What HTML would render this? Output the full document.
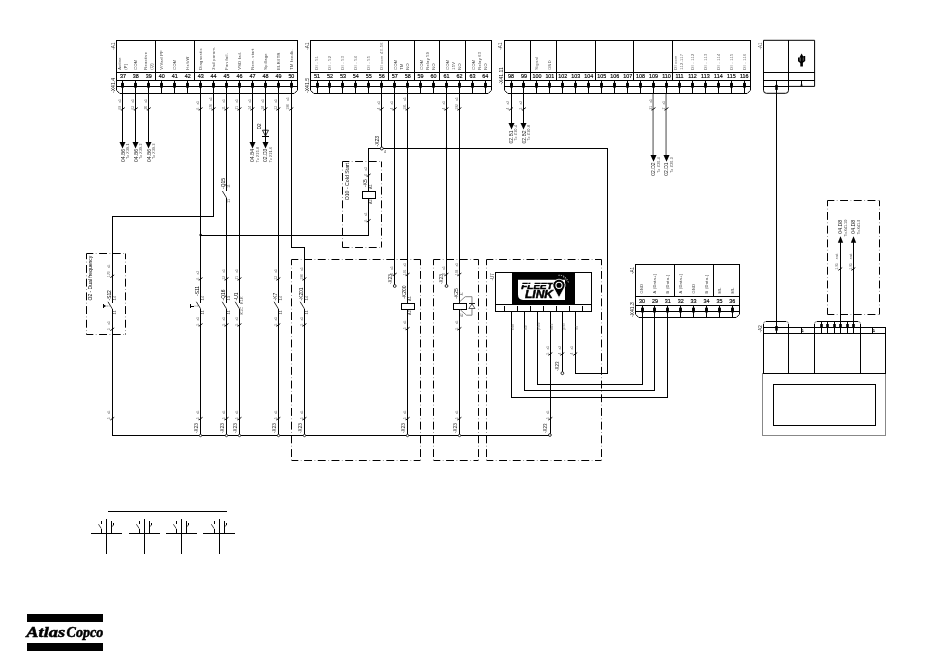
<!DOCTYPE html>
<html><head><meta charset="utf-8"><title>Wiring diagram</title>
<style>
html,body{margin:0;padding:0;background:#fff;}
body{width:950px;height:657px;overflow:hidden;font-family:"Liberation Sans",sans-serif;}
svg{display:block;font-family:"Liberation Sans",sans-serif;opacity:0.999;will-change:transform;}
</style></head><body>
<svg width="950" height="657" viewBox="0 0 950 657">
<rect width="950" height="657" fill="#fff"/>

<line x1="122.90" y1="93.00" x2="122.90" y2="143.50" stroke="#000" stroke-width="1"  shape-rendering="crispEdges"/>
<polygon points="119.50,141.90 125.50,141.90 122.50,148.50" fill="#000"/>
<text transform="translate(124.70,162.00) rotate(-90)" font-size="5.0" fill="#222" text-anchor="start" font-weight="normal" >04.B6</text>
<text transform="translate(129.30,159.00) rotate(-90)" font-size="3.5" fill="#333" text-anchor="start" font-weight="normal" letter-spacing="0.22">To X39.1</text>
<line x1="120.50" y1="109.80" x2="121.30" y2="110.20" stroke="#333" stroke-width="0.5" />
<line x1="121.10" y1="110.20" x2="124.80" y2="107.60" stroke="#000" stroke-width="0.9" />
<text transform="translate(121.00,109.60) rotate(-90)" font-size="3.3" fill="#6a6a6a" text-anchor="start" font-weight="normal" >69</text>
<text transform="translate(121.00,102.74) rotate(-90)" font-size="3.3" fill="#6a6a6a" text-anchor="start" font-weight="normal" >a5</text>
<line x1="135.86" y1="93.00" x2="135.86" y2="143.50" stroke="#000" stroke-width="1"  shape-rendering="crispEdges"/>
<polygon points="132.50,141.90 138.50,141.90 135.50,148.50" fill="#000"/>
<text transform="translate(137.66,162.00) rotate(-90)" font-size="5.0" fill="#222" text-anchor="start" font-weight="normal" >04.B6</text>
<text transform="translate(142.26,159.00) rotate(-90)" font-size="3.5" fill="#333" text-anchor="start" font-weight="normal" letter-spacing="0.22">To X39.2</text>
<line x1="133.46" y1="109.80" x2="134.26" y2="110.20" stroke="#333" stroke-width="0.5" />
<line x1="134.06" y1="110.20" x2="137.76" y2="107.60" stroke="#000" stroke-width="0.9" />
<text transform="translate(133.96,109.60) rotate(-90)" font-size="3.3" fill="#6a6a6a" text-anchor="start" font-weight="normal" >63</text>
<text transform="translate(133.96,102.74) rotate(-90)" font-size="3.3" fill="#6a6a6a" text-anchor="start" font-weight="normal" >a5</text>
<line x1="148.82" y1="93.00" x2="148.82" y2="143.50" stroke="#000" stroke-width="1"  shape-rendering="crispEdges"/>
<polygon points="145.50,141.90 151.50,141.90 148.50,148.50" fill="#000"/>
<text transform="translate(150.62,162.00) rotate(-90)" font-size="5.0" fill="#222" text-anchor="start" font-weight="normal" >04.B6</text>
<text transform="translate(155.22,159.00) rotate(-90)" font-size="3.5" fill="#333" text-anchor="start" font-weight="normal" letter-spacing="0.22">To X39.3</text>
<line x1="146.42" y1="109.80" x2="147.22" y2="110.20" stroke="#333" stroke-width="0.5" />
<line x1="147.02" y1="110.20" x2="150.72" y2="107.60" stroke="#000" stroke-width="0.9" />
<text transform="translate(146.92,109.60) rotate(-90)" font-size="3.3" fill="#6a6a6a" text-anchor="start" font-weight="normal" >70</text>
<text transform="translate(146.92,102.74) rotate(-90)" font-size="3.3" fill="#6a6a6a" text-anchor="start" font-weight="normal" >a5</text>
<line x1="200.66" y1="93.00" x2="200.66" y2="435.00" stroke="#000" stroke-width="1"  shape-rendering="crispEdges"/>
<polyline points="213.62,93.00 213.62,216.00 112.30,216.00 112.30,435.00" stroke="#000" stroke-width="1" fill="none"  shape-rendering="crispEdges"/>
<line x1="226.58" y1="93.00" x2="226.58" y2="191.40" stroke="#000" stroke-width="1"  shape-rendering="crispEdges"/>
<line x1="226.58" y1="197.90" x2="226.58" y2="435.00" stroke="#000" stroke-width="1"  shape-rendering="crispEdges"/>
<line x1="226.58" y1="197.90" x2="222.38" y2="191.00" stroke="#000" stroke-width="0.8" />
<text transform="translate(225.08,189.00) rotate(-90)" font-size="4.9" fill="#000" text-anchor="start" font-weight="normal" >-Q15</text>
<text transform="translate(229.98,187.80) rotate(-90)" font-size="2.8" fill="#555" text-anchor="start" font-weight="normal" >13</text>
<text transform="translate(229.98,202.80) rotate(-90)" font-size="3.6" fill="#444" text-anchor="start" font-weight="normal" >11</text>
<line x1="239.54" y1="93.00" x2="239.54" y2="435.00" stroke="#000" stroke-width="1"  shape-rendering="crispEdges"/>
<line x1="252.50" y1="93.00" x2="252.50" y2="143.50" stroke="#000" stroke-width="1"  shape-rendering="crispEdges"/>
<polygon points="249.50,141.90 255.50,141.90 252.50,148.50" fill="#000"/>
<text transform="translate(254.30,162.00) rotate(-90)" font-size="5.0" fill="#222" text-anchor="start" font-weight="normal" >04.B4</text>
<text transform="translate(259.10,162.30) rotate(-90)" font-size="3.5" fill="#333" text-anchor="start" font-weight="normal" letter-spacing="0.22">To X25.8</text>
<line x1="265.46" y1="93.00" x2="265.46" y2="143.50" stroke="#000" stroke-width="1"  shape-rendering="crispEdges"/>
<polygon points="262.50,141.90 268.50,141.90 265.50,148.50" fill="#000"/>
<polygon points="262.46,130.2 268.46,130.2 265.46,136" fill="none" stroke="#000" stroke-width="0.8"/>
<line x1="262.26" y1="136.20" x2="268.66" y2="136.20" stroke="#000" stroke-width="1"  shape-rendering="crispEdges"/>
<text transform="translate(261.06,129.40) rotate(-90)" font-size="4.7" fill="#000" text-anchor="start" font-weight="normal" >D2</text>
<text transform="translate(267.26,162.00) rotate(-90)" font-size="5.0" fill="#222" text-anchor="start" font-weight="normal" >02.D3</text>
<text transform="translate(272.06,162.30) rotate(-90)" font-size="3.5" fill="#333" text-anchor="start" font-weight="normal" letter-spacing="0.22">To X21.6</text>
<line x1="278.42" y1="93.00" x2="278.42" y2="435.00" stroke="#000" stroke-width="1"  shape-rendering="crispEdges"/>
<polyline points="291.38,93.00 291.38,247.30 304.50,247.30 304.50,435.00" stroke="#000" stroke-width="1" fill="none"  shape-rendering="crispEdges"/>
<line x1="198.26" y1="109.80" x2="199.06" y2="110.20" stroke="#333" stroke-width="0.5" />
<line x1="198.86" y1="110.20" x2="202.56" y2="107.60" stroke="#000" stroke-width="0.9" />
<text transform="translate(198.76,109.60) rotate(-90)" font-size="3.3" fill="#6a6a6a" text-anchor="start" font-weight="normal" >6</text>
<text transform="translate(198.76,104.52) rotate(-90)" font-size="3.3" fill="#6a6a6a" text-anchor="start" font-weight="normal" >a5</text>
<line x1="211.22" y1="109.80" x2="212.02" y2="110.20" stroke="#333" stroke-width="0.5" />
<line x1="211.82" y1="110.20" x2="215.52" y2="107.60" stroke="#000" stroke-width="0.9" />
<text transform="translate(211.72,109.60) rotate(-90)" font-size="3.3" fill="#6a6a6a" text-anchor="start" font-weight="normal" >170</text>
<text transform="translate(211.72,100.96) rotate(-90)" font-size="3.3" fill="#6a6a6a" text-anchor="start" font-weight="normal" >a5</text>
<line x1="224.18" y1="109.80" x2="224.98" y2="110.20" stroke="#333" stroke-width="0.5" />
<line x1="224.78" y1="110.20" x2="228.48" y2="107.60" stroke="#000" stroke-width="0.9" />
<text transform="translate(224.68,109.60) rotate(-90)" font-size="3.3" fill="#6a6a6a" text-anchor="start" font-weight="normal" >11</text>
<text transform="translate(224.68,102.74) rotate(-90)" font-size="3.3" fill="#6a6a6a" text-anchor="start" font-weight="normal" >a5</text>
<line x1="237.14" y1="109.80" x2="237.94" y2="110.20" stroke="#333" stroke-width="0.5" />
<line x1="237.74" y1="110.20" x2="241.44" y2="107.60" stroke="#000" stroke-width="0.9" />
<text transform="translate(237.64,109.60) rotate(-90)" font-size="3.3" fill="#6a6a6a" text-anchor="start" font-weight="normal" >71</text>
<text transform="translate(237.64,102.74) rotate(-90)" font-size="3.3" fill="#6a6a6a" text-anchor="start" font-weight="normal" >a5</text>
<line x1="250.10" y1="109.80" x2="250.90" y2="110.20" stroke="#333" stroke-width="0.5" />
<line x1="250.70" y1="110.20" x2="254.40" y2="107.60" stroke="#000" stroke-width="0.9" />
<text transform="translate(250.60,109.60) rotate(-90)" font-size="3.3" fill="#6a6a6a" text-anchor="start" font-weight="normal" >14</text>
<text transform="translate(250.60,102.74) rotate(-90)" font-size="3.3" fill="#6a6a6a" text-anchor="start" font-weight="normal" >a5</text>
<line x1="263.06" y1="109.80" x2="263.86" y2="110.20" stroke="#333" stroke-width="0.5" />
<line x1="263.66" y1="110.20" x2="267.36" y2="107.60" stroke="#000" stroke-width="0.9" />
<text transform="translate(263.56,109.60) rotate(-90)" font-size="3.3" fill="#6a6a6a" text-anchor="start" font-weight="normal" >18</text>
<text transform="translate(263.56,102.74) rotate(-90)" font-size="3.3" fill="#6a6a6a" text-anchor="start" font-weight="normal" >a5</text>
<line x1="276.02" y1="109.80" x2="276.82" y2="110.20" stroke="#333" stroke-width="0.5" />
<line x1="276.62" y1="110.20" x2="280.32" y2="107.60" stroke="#000" stroke-width="0.9" />
<text transform="translate(276.52,109.60) rotate(-90)" font-size="3.3" fill="#6a6a6a" text-anchor="start" font-weight="normal" >13</text>
<text transform="translate(276.52,102.74) rotate(-90)" font-size="3.3" fill="#6a6a6a" text-anchor="start" font-weight="normal" >a5</text>
<line x1="288.98" y1="109.80" x2="289.78" y2="110.20" stroke="#333" stroke-width="0.5" />
<line x1="289.58" y1="110.20" x2="293.28" y2="107.60" stroke="#000" stroke-width="0.9" />
<text transform="translate(289.48,109.60) rotate(-90)" font-size="3.3" fill="#6a6a6a" text-anchor="start" font-weight="normal" >190</text>
<text transform="translate(289.48,100.96) rotate(-90)" font-size="3.3" fill="#6a6a6a" text-anchor="start" font-weight="normal" >a5</text>
<circle cx="200.66" cy="235.00" r="1.2" fill="#000"/>
<polyline points="200.66,235.00 368.70,235.00 368.70,148.50 607.30,148.50 607.30,373.20 575.80,373.20 575.80,311.50" stroke="#000" stroke-width="1" fill="none"  shape-rendering="crispEdges"/>
<line x1="381.77" y1="93.00" x2="381.77" y2="148.50" stroke="#000" stroke-width="1"  shape-rendering="crispEdges"/>
<circle cx="381.77" cy="148.50" r="1.5" fill="#fff" stroke="#000" stroke-width="0.8"/>
<text transform="translate(379.47,146.50) rotate(-90)" font-size="5.0" fill="#000" text-anchor="start" font-weight="normal" >-X23</text>
<text x="384.97" y="153.20" font-size="3.4" fill="#222" text-anchor="middle" font-weight="normal" >4</text>
<line x1="394.72" y1="93.00" x2="394.72" y2="286.00" stroke="#000" stroke-width="1"  shape-rendering="crispEdges"/>
<circle cx="394.72" cy="286.00" r="1.4" fill="#fff" stroke="#000" stroke-width="0.8"/>
<line x1="407.67" y1="93.00" x2="407.67" y2="435.00" stroke="#000" stroke-width="1"  shape-rendering="crispEdges"/>
<line x1="446.52" y1="93.00" x2="446.52" y2="286.00" stroke="#000" stroke-width="1"  shape-rendering="crispEdges"/>
<circle cx="446.52" cy="286.00" r="1.4" fill="#fff" stroke="#000" stroke-width="0.8"/>
<circle cx="446.52" cy="148.50" r="0.9" fill="#000"/>
<line x1="459.47" y1="93.00" x2="459.47" y2="435.00" stroke="#000" stroke-width="1"  shape-rendering="crispEdges"/>
<line x1="379.37" y1="109.80" x2="380.17" y2="110.20" stroke="#333" stroke-width="0.5" />
<line x1="379.97" y1="110.20" x2="383.67" y2="107.60" stroke="#000" stroke-width="0.9" />
<text transform="translate(379.87,109.60) rotate(-90)" font-size="3.3" fill="#6a6a6a" text-anchor="start" font-weight="normal" >4</text>
<text transform="translate(379.87,104.52) rotate(-90)" font-size="3.3" fill="#6a6a6a" text-anchor="start" font-weight="normal" >a5</text>
<line x1="392.32" y1="109.80" x2="393.12" y2="110.20" stroke="#333" stroke-width="0.5" />
<line x1="392.92" y1="110.20" x2="396.62" y2="107.60" stroke="#000" stroke-width="0.9" />
<text transform="translate(392.82,109.60) rotate(-90)" font-size="3.3" fill="#6a6a6a" text-anchor="start" font-weight="normal" >4</text>
<text transform="translate(392.82,104.52) rotate(-90)" font-size="3.3" fill="#6a6a6a" text-anchor="start" font-weight="normal" >a5</text>
<line x1="405.27" y1="109.80" x2="406.07" y2="110.20" stroke="#333" stroke-width="0.5" />
<line x1="405.87" y1="110.20" x2="409.57" y2="107.60" stroke="#000" stroke-width="0.9" />
<text transform="translate(405.77,109.60) rotate(-90)" font-size="3.3" fill="#6a6a6a" text-anchor="start" font-weight="normal" >191</text>
<text transform="translate(405.77,100.96) rotate(-90)" font-size="3.3" fill="#6a6a6a" text-anchor="start" font-weight="normal" >a5</text>
<line x1="444.12" y1="109.80" x2="444.92" y2="110.20" stroke="#333" stroke-width="0.5" />
<line x1="444.72" y1="110.20" x2="448.42" y2="107.60" stroke="#000" stroke-width="0.9" />
<text transform="translate(444.62,109.60) rotate(-90)" font-size="3.3" fill="#6a6a6a" text-anchor="start" font-weight="normal" >4</text>
<text transform="translate(444.62,104.52) rotate(-90)" font-size="3.3" fill="#6a6a6a" text-anchor="start" font-weight="normal" >a5</text>
<line x1="457.07" y1="109.80" x2="457.87" y2="110.20" stroke="#333" stroke-width="0.5" />
<line x1="457.67" y1="110.20" x2="461.37" y2="107.60" stroke="#000" stroke-width="0.9" />
<text transform="translate(457.57,109.60) rotate(-90)" font-size="3.3" fill="#6a6a6a" text-anchor="start" font-weight="normal" >192</text>
<text transform="translate(457.57,100.96) rotate(-90)" font-size="3.3" fill="#6a6a6a" text-anchor="start" font-weight="normal" >a5</text>
<line x1="511.01" y1="93.00" x2="511.01" y2="124.50" stroke="#000" stroke-width="1"  shape-rendering="crispEdges"/>
<polygon points="508.50,122.90 514.50,122.90 511.50,129.50" fill="#000"/>
<text transform="translate(512.81,143.50) rotate(-90)" font-size="5.0" fill="#222" text-anchor="start" font-weight="normal" >02.B1</text>
<text transform="translate(517.41,140.50) rotate(-90)" font-size="3.5" fill="#333" text-anchor="start" font-weight="normal" letter-spacing="0.22">To X30.4</text>
<line x1="508.61" y1="109.80" x2="509.41" y2="110.20" stroke="#333" stroke-width="0.5" />
<line x1="509.21" y1="110.20" x2="512.91" y2="107.60" stroke="#000" stroke-width="0.9" />
<text transform="translate(509.11,109.60) rotate(-90)" font-size="3.3" fill="#6a6a6a" text-anchor="start" font-weight="normal" >4</text>
<text transform="translate(509.11,104.52) rotate(-90)" font-size="3.3" fill="#6a6a6a" text-anchor="start" font-weight="normal" >a2</text>
<line x1="523.97" y1="93.00" x2="523.97" y2="124.50" stroke="#000" stroke-width="1"  shape-rendering="crispEdges"/>
<polygon points="520.50,122.90 526.50,122.90 523.50,129.50" fill="#000"/>
<text transform="translate(525.77,143.50) rotate(-90)" font-size="5.0" fill="#222" text-anchor="start" font-weight="normal" >02.B2</text>
<text transform="translate(530.37,140.50) rotate(-90)" font-size="3.5" fill="#333" text-anchor="start" font-weight="normal" letter-spacing="0.22">To X30.8</text>
<line x1="521.57" y1="109.80" x2="522.37" y2="110.20" stroke="#333" stroke-width="0.5" />
<line x1="522.17" y1="110.20" x2="525.87" y2="107.60" stroke="#000" stroke-width="0.9" />
<text transform="translate(522.07,109.60) rotate(-90)" font-size="3.3" fill="#6a6a6a" text-anchor="start" font-weight="normal" >3</text>
<text transform="translate(522.07,104.52) rotate(-90)" font-size="3.3" fill="#6a6a6a" text-anchor="start" font-weight="normal" >a2</text>
<line x1="653.12" y1="93" x2="653.12" y2="156.7" stroke="#999" stroke-width="1.8"/>
<polygon points="650.50,155.10 656.50,155.10 653.50,161.70" fill="#000"/>
<text transform="translate(655.37,175.70) rotate(-90)" font-size="5.0" fill="#222" text-anchor="start" font-weight="normal" >02.D2</text>
<text transform="translate(659.97,172.70) rotate(-90)" font-size="3.5" fill="#333" text-anchor="start" font-weight="normal" letter-spacing="0.22">To X20.4</text>
<line x1="651.17" y1="109.80" x2="651.97" y2="110.20" stroke="#333" stroke-width="0.5" />
<line x1="651.77" y1="110.20" x2="655.47" y2="107.60" stroke="#000" stroke-width="0.9" />
<text transform="translate(651.67,109.60) rotate(-90)" font-size="3.3" fill="#6a6a6a" text-anchor="start" font-weight="normal" >21</text>
<text transform="translate(651.67,102.74) rotate(-90)" font-size="3.3" fill="#6a6a6a" text-anchor="start" font-weight="normal" >a5</text>
<line x1="666.08" y1="93" x2="666.08" y2="156.7" stroke="#999" stroke-width="1.8"/>
<polygon points="663.50,155.10 669.50,155.10 666.50,161.70" fill="#000"/>
<text transform="translate(668.33,175.70) rotate(-90)" font-size="5.0" fill="#222" text-anchor="start" font-weight="normal" >02.D1</text>
<text transform="translate(672.93,172.70) rotate(-90)" font-size="3.5" fill="#333" text-anchor="start" font-weight="normal" letter-spacing="0.22">To X20.3</text>
<line x1="664.13" y1="109.80" x2="664.93" y2="110.20" stroke="#333" stroke-width="0.5" />
<line x1="664.73" y1="110.20" x2="668.43" y2="107.60" stroke="#000" stroke-width="0.9" />
<text transform="translate(664.63,109.60) rotate(-90)" font-size="3.3" fill="#6a6a6a" text-anchor="start" font-weight="normal" >7</text>
<text transform="translate(664.63,104.52) rotate(-90)" font-size="3.3" fill="#6a6a6a" text-anchor="start" font-weight="normal" >a5</text>
<line x1="776.30" y1="93.00" x2="776.30" y2="327.00" stroke="#000" stroke-width="1"  shape-rendering="crispEdges"/>
<line x1="112.30" y1="435.00" x2="549.90" y2="435.00" stroke="#000" stroke-width="1"  shape-rendering="crispEdges"/>
<path d="M116.60,40.30 H297.50 V90.00 L294.30,93.20 H119.80 L116.60,90.00 Z" fill="#fff" stroke="none"/>
<polyline points="116.5,90.30 116.5,40.5 297.5,40.5 297.5,90.30" fill="none" stroke="#000" stroke-width="1" shape-rendering="crispEdges"/>
<line x1="119.70" y1="93.5" x2="294.30" y2="93.5" stroke="#000" stroke-width="1" shape-rendering="crispEdges"/>
<path d="M116.5,90.30 L119.70,93.5 M297.5,90.30 L294.30,93.5" fill="none" stroke="#000" stroke-width="1"/>
<line x1="116.60" y1="72.40" x2="297.50" y2="72.40" stroke="#000" stroke-width="1"  shape-rendering="crispEdges"/>
<line x1="116.60" y1="80.40" x2="297.50" y2="80.40" stroke="#000" stroke-width="1"  shape-rendering="crispEdges"/>
<line x1="116.60" y1="86.60" x2="297.50" y2="86.60" stroke="#000" stroke-width="1"  shape-rendering="crispEdges"/>
<line x1="155.50" y1="40.30" x2="155.50" y2="80.40" stroke="#000" stroke-width="1"  shape-rendering="crispEdges"/>
<line x1="194.50" y1="40.30" x2="194.50" y2="80.40" stroke="#000" stroke-width="1"  shape-rendering="crispEdges"/>
<line x1="122.90" y1="80.40" x2="122.90" y2="93.20" stroke="#000" stroke-width="1"  shape-rendering="crispEdges"/>
<rect x="121.05" y="82.90" width="2.9" height="4.7" fill="#000"/>
<text x="122.90" y="78.35" font-size="5.4" fill="#000" text-anchor="middle" font-weight="normal" stroke="#000" stroke-width="0.15">37</text>
<line x1="135.86" y1="80.40" x2="135.86" y2="93.20" stroke="#000" stroke-width="1"  shape-rendering="crispEdges"/>
<rect x="134.05" y="82.90" width="2.9" height="4.7" fill="#000"/>
<text x="135.86" y="78.35" font-size="5.4" fill="#000" text-anchor="middle" font-weight="normal" stroke="#000" stroke-width="0.15">38</text>
<line x1="148.82" y1="80.40" x2="148.82" y2="93.20" stroke="#000" stroke-width="1"  shape-rendering="crispEdges"/>
<rect x="147.05" y="82.90" width="2.9" height="4.7" fill="#000"/>
<text x="148.82" y="78.35" font-size="5.4" fill="#000" text-anchor="middle" font-weight="normal" stroke="#000" stroke-width="0.15">39</text>
<line x1="161.78" y1="80.40" x2="161.78" y2="93.20" stroke="#000" stroke-width="1"  shape-rendering="crispEdges"/>
<rect x="160.05" y="82.90" width="2.9" height="4.7" fill="#000"/>
<text x="161.78" y="78.35" font-size="5.4" fill="#000" text-anchor="middle" font-weight="normal" stroke="#000" stroke-width="0.15">40</text>
<line x1="174.74" y1="80.40" x2="174.74" y2="93.20" stroke="#000" stroke-width="1"  shape-rendering="crispEdges"/>
<rect x="173.05" y="82.90" width="2.9" height="4.7" fill="#000"/>
<text x="174.74" y="78.35" font-size="5.4" fill="#000" text-anchor="middle" font-weight="normal" stroke="#000" stroke-width="0.15">41</text>
<line x1="187.70" y1="80.40" x2="187.70" y2="93.20" stroke="#000" stroke-width="1"  shape-rendering="crispEdges"/>
<rect x="186.05" y="82.90" width="2.9" height="4.7" fill="#000"/>
<text x="187.70" y="78.35" font-size="5.4" fill="#000" text-anchor="middle" font-weight="normal" stroke="#000" stroke-width="0.15">42</text>
<line x1="200.66" y1="80.40" x2="200.66" y2="93.20" stroke="#000" stroke-width="1"  shape-rendering="crispEdges"/>
<rect x="199.05" y="82.90" width="2.9" height="4.7" fill="#000"/>
<text x="200.66" y="78.35" font-size="5.4" fill="#000" text-anchor="middle" font-weight="normal" stroke="#000" stroke-width="0.15">43</text>
<line x1="213.62" y1="80.40" x2="213.62" y2="93.20" stroke="#000" stroke-width="1"  shape-rendering="crispEdges"/>
<rect x="212.05" y="82.90" width="2.9" height="4.7" fill="#000"/>
<text x="213.62" y="78.35" font-size="5.4" fill="#000" text-anchor="middle" font-weight="normal" stroke="#000" stroke-width="0.15">44</text>
<line x1="226.58" y1="80.40" x2="226.58" y2="93.20" stroke="#000" stroke-width="1"  shape-rendering="crispEdges"/>
<rect x="225.05" y="82.90" width="2.9" height="4.7" fill="#000"/>
<text x="226.58" y="78.35" font-size="5.4" fill="#000" text-anchor="middle" font-weight="normal" stroke="#000" stroke-width="0.15">45</text>
<line x1="239.54" y1="80.40" x2="239.54" y2="93.20" stroke="#000" stroke-width="1"  shape-rendering="crispEdges"/>
<rect x="238.05" y="82.90" width="2.9" height="4.7" fill="#000"/>
<text x="239.54" y="78.35" font-size="5.4" fill="#000" text-anchor="middle" font-weight="normal" stroke="#000" stroke-width="0.15">46</text>
<line x1="252.50" y1="80.40" x2="252.50" y2="93.20" stroke="#000" stroke-width="1"  shape-rendering="crispEdges"/>
<rect x="251.05" y="82.90" width="2.9" height="4.7" fill="#000"/>
<text x="252.50" y="78.35" font-size="5.4" fill="#000" text-anchor="middle" font-weight="normal" stroke="#000" stroke-width="0.15">47</text>
<line x1="265.46" y1="80.40" x2="265.46" y2="93.20" stroke="#000" stroke-width="1"  shape-rendering="crispEdges"/>
<rect x="264.05" y="82.90" width="2.9" height="4.7" fill="#000"/>
<text x="265.46" y="78.35" font-size="5.4" fill="#000" text-anchor="middle" font-weight="normal" stroke="#000" stroke-width="0.15">48</text>
<line x1="278.42" y1="80.40" x2="278.42" y2="93.20" stroke="#000" stroke-width="1"  shape-rendering="crispEdges"/>
<rect x="277.05" y="82.90" width="2.9" height="4.7" fill="#000"/>
<text x="278.42" y="78.35" font-size="5.4" fill="#000" text-anchor="middle" font-weight="normal" stroke="#000" stroke-width="0.15">49</text>
<line x1="291.38" y1="80.40" x2="291.38" y2="93.20" stroke="#000" stroke-width="1"  shape-rendering="crispEdges"/>
<rect x="290.05" y="82.90" width="2.9" height="4.7" fill="#000"/>
<text x="291.38" y="78.35" font-size="5.4" fill="#000" text-anchor="middle" font-weight="normal" stroke="#000" stroke-width="0.15">50</text>
<text transform="translate(120.90,69.80) rotate(-90)" font-size="4.0" fill="#444" text-anchor="start" font-weight="normal" letter-spacing="0.3">Active</text>
<text transform="translate(126.90,69.80) rotate(-90)" font-size="4.0" fill="#444" text-anchor="start" font-weight="normal" letter-spacing="0.3">(P)</text>
<text transform="translate(137.26,69.80) rotate(-90)" font-size="4.0" fill="#444" text-anchor="start" font-weight="normal" letter-spacing="0.3">COM</text>
<text transform="translate(146.82,69.80) rotate(-90)" font-size="4.0" fill="#444" text-anchor="start" font-weight="normal" letter-spacing="0.3">Reactive</text>
<text transform="translate(152.82,69.80) rotate(-90)" font-size="4.0" fill="#444" text-anchor="start" font-weight="normal" letter-spacing="0.3">(Q)</text>
<text transform="translate(163.18,69.80) rotate(-90)" font-size="4.0" fill="#444" text-anchor="start" font-weight="normal" letter-spacing="0.3">V/Varf PF</text>
<text transform="translate(176.14,69.80) rotate(-90)" font-size="4.0" fill="#444" text-anchor="start" font-weight="normal" letter-spacing="0.3">COM</text>
<text transform="translate(189.10,69.80) rotate(-90)" font-size="4.0" fill="#444" text-anchor="start" font-weight="normal" letter-spacing="0.3">Hz/kW</text>
<text transform="translate(202.06,69.80) rotate(-90)" font-size="4.0" fill="#444" text-anchor="start" font-weight="normal" letter-spacing="0.3">Diagnostic</text>
<text transform="translate(215.02,69.80) rotate(-90)" font-size="4.0" fill="#444" text-anchor="start" font-weight="normal" letter-spacing="0.3">2nd param.</text>
<text transform="translate(227.98,69.80) rotate(-90)" font-size="4.0" fill="#444" text-anchor="start" font-weight="normal" letter-spacing="0.3">Fan fail.</text>
<text transform="translate(240.94,69.80) rotate(-90)" font-size="4.0" fill="#444" text-anchor="start" font-weight="normal" letter-spacing="0.3">VSD fail.</text>
<text transform="translate(253.90,69.80) rotate(-90)" font-size="4.0" fill="#444" text-anchor="start" font-weight="normal" letter-spacing="0.3">Rem. start</text>
<text transform="translate(266.86,69.80) rotate(-90)" font-size="4.0" fill="#444" text-anchor="start" font-weight="normal" letter-spacing="0.3">Spillage</text>
<text transform="translate(279.82,69.80) rotate(-90)" font-size="4.0" fill="#444" text-anchor="start" font-weight="normal" letter-spacing="0.3">ELR/ITR</text>
<text transform="translate(292.78,69.80) rotate(-90)" font-size="4.0" fill="#444" text-anchor="start" font-weight="normal" letter-spacing="0.3">TM feedb.</text>
<text transform="translate(114.70,49.80) rotate(-90)" font-size="4.7" fill="#111" text-anchor="start" font-weight="normal" >-A1</text>
<text transform="translate(115.40,93.00) rotate(-90)" font-size="5.1" fill="#111" text-anchor="start" font-weight="normal" >-X41.4</text>
<path d="M310.60,40.30 H491.80 V90.00 L488.60,93.20 H313.80 L310.60,90.00 Z" fill="#fff" stroke="none"/>
<polyline points="310.5,90.30 310.5,40.5 491.5,40.5 491.5,90.30" fill="none" stroke="#000" stroke-width="1" shape-rendering="crispEdges"/>
<line x1="313.70" y1="93.5" x2="488.30" y2="93.5" stroke="#000" stroke-width="1" shape-rendering="crispEdges"/>
<path d="M310.5,90.30 L313.70,93.5 M491.5,90.30 L488.30,93.5" fill="none" stroke="#000" stroke-width="1"/>
<line x1="310.60" y1="72.40" x2="491.80" y2="72.40" stroke="#000" stroke-width="1"  shape-rendering="crispEdges"/>
<line x1="310.60" y1="80.40" x2="491.80" y2="80.40" stroke="#000" stroke-width="1"  shape-rendering="crispEdges"/>
<line x1="310.60" y1="86.60" x2="491.80" y2="86.60" stroke="#000" stroke-width="1"  shape-rendering="crispEdges"/>
<line x1="388.40" y1="40.30" x2="388.40" y2="80.40" stroke="#000" stroke-width="1"  shape-rendering="crispEdges"/>
<line x1="414.40" y1="40.30" x2="414.40" y2="80.40" stroke="#000" stroke-width="1"  shape-rendering="crispEdges"/>
<line x1="439.60" y1="40.30" x2="439.60" y2="80.40" stroke="#000" stroke-width="1"  shape-rendering="crispEdges"/>
<line x1="465.50" y1="40.30" x2="465.50" y2="80.40" stroke="#000" stroke-width="1"  shape-rendering="crispEdges"/>
<line x1="317.02" y1="80.40" x2="317.02" y2="93.20" stroke="#000" stroke-width="1"  shape-rendering="crispEdges"/>
<rect x="316.05" y="82.90" width="2.9" height="4.7" fill="#000"/>
<text x="317.02" y="78.35" font-size="5.4" fill="#000" text-anchor="middle" font-weight="normal" stroke="#000" stroke-width="0.15">51</text>
<line x1="329.97" y1="80.40" x2="329.97" y2="93.20" stroke="#000" stroke-width="1"  shape-rendering="crispEdges"/>
<rect x="328.05" y="82.90" width="2.9" height="4.7" fill="#000"/>
<text x="329.97" y="78.35" font-size="5.4" fill="#000" text-anchor="middle" font-weight="normal" stroke="#000" stroke-width="0.15">52</text>
<line x1="342.92" y1="80.40" x2="342.92" y2="93.20" stroke="#000" stroke-width="1"  shape-rendering="crispEdges"/>
<rect x="341.05" y="82.90" width="2.9" height="4.7" fill="#000"/>
<text x="342.92" y="78.35" font-size="5.4" fill="#000" text-anchor="middle" font-weight="normal" stroke="#000" stroke-width="0.15">53</text>
<line x1="355.87" y1="80.40" x2="355.87" y2="93.20" stroke="#000" stroke-width="1"  shape-rendering="crispEdges"/>
<rect x="354.05" y="82.90" width="2.9" height="4.7" fill="#000"/>
<text x="355.87" y="78.35" font-size="5.4" fill="#000" text-anchor="middle" font-weight="normal" stroke="#000" stroke-width="0.15">54</text>
<line x1="368.82" y1="80.40" x2="368.82" y2="93.20" stroke="#000" stroke-width="1"  shape-rendering="crispEdges"/>
<rect x="367.05" y="82.90" width="2.9" height="4.7" fill="#000"/>
<text x="368.82" y="78.35" font-size="5.4" fill="#000" text-anchor="middle" font-weight="normal" stroke="#000" stroke-width="0.15">55</text>
<line x1="381.77" y1="80.40" x2="381.77" y2="93.20" stroke="#000" stroke-width="1"  shape-rendering="crispEdges"/>
<rect x="380.05" y="82.90" width="2.9" height="4.7" fill="#000"/>
<text x="381.77" y="78.35" font-size="5.4" fill="#000" text-anchor="middle" font-weight="normal" stroke="#000" stroke-width="0.15">56</text>
<line x1="394.72" y1="80.40" x2="394.72" y2="93.20" stroke="#000" stroke-width="1"  shape-rendering="crispEdges"/>
<rect x="393.05" y="82.90" width="2.9" height="4.7" fill="#000"/>
<text x="394.72" y="78.35" font-size="5.4" fill="#000" text-anchor="middle" font-weight="normal" stroke="#000" stroke-width="0.15">57</text>
<line x1="407.67" y1="80.40" x2="407.67" y2="93.20" stroke="#000" stroke-width="1"  shape-rendering="crispEdges"/>
<rect x="406.05" y="82.90" width="2.9" height="4.7" fill="#000"/>
<text x="407.67" y="78.35" font-size="5.4" fill="#000" text-anchor="middle" font-weight="normal" stroke="#000" stroke-width="0.15">58</text>
<line x1="420.62" y1="80.40" x2="420.62" y2="93.20" stroke="#000" stroke-width="1"  shape-rendering="crispEdges"/>
<rect x="419.05" y="82.90" width="2.9" height="4.7" fill="#000"/>
<text x="420.62" y="78.35" font-size="5.4" fill="#000" text-anchor="middle" font-weight="normal" stroke="#000" stroke-width="0.15">59</text>
<line x1="433.57" y1="80.40" x2="433.57" y2="93.20" stroke="#000" stroke-width="1"  shape-rendering="crispEdges"/>
<rect x="432.05" y="82.90" width="2.9" height="4.7" fill="#000"/>
<text x="433.57" y="78.35" font-size="5.4" fill="#000" text-anchor="middle" font-weight="normal" stroke="#000" stroke-width="0.15">60</text>
<line x1="446.52" y1="80.40" x2="446.52" y2="93.20" stroke="#000" stroke-width="1"  shape-rendering="crispEdges"/>
<rect x="445.05" y="82.90" width="2.9" height="4.7" fill="#000"/>
<text x="446.52" y="78.35" font-size="5.4" fill="#000" text-anchor="middle" font-weight="normal" stroke="#000" stroke-width="0.15">61</text>
<line x1="459.47" y1="80.40" x2="459.47" y2="93.20" stroke="#000" stroke-width="1"  shape-rendering="crispEdges"/>
<rect x="458.05" y="82.90" width="2.9" height="4.7" fill="#000"/>
<text x="459.47" y="78.35" font-size="5.4" fill="#000" text-anchor="middle" font-weight="normal" stroke="#000" stroke-width="0.15">62</text>
<line x1="472.42" y1="80.40" x2="472.42" y2="93.20" stroke="#000" stroke-width="1"  shape-rendering="crispEdges"/>
<rect x="471.05" y="82.90" width="2.9" height="4.7" fill="#000"/>
<text x="472.42" y="78.35" font-size="5.4" fill="#000" text-anchor="middle" font-weight="normal" stroke="#000" stroke-width="0.15">63</text>
<line x1="485.37" y1="80.40" x2="485.37" y2="93.20" stroke="#000" stroke-width="1"  shape-rendering="crispEdges"/>
<rect x="484.05" y="82.90" width="2.9" height="4.7" fill="#000"/>
<text x="485.37" y="78.35" font-size="5.4" fill="#000" text-anchor="middle" font-weight="normal" stroke="#000" stroke-width="0.15">64</text>
<text transform="translate(318.42,69.80) rotate(-90)" font-size="4.0" fill="#606060" text-anchor="start" font-weight="normal" letter-spacing="0.3">DI - 51</text>
<text transform="translate(331.37,69.80) rotate(-90)" font-size="4.0" fill="#606060" text-anchor="start" font-weight="normal" letter-spacing="0.3">DI - 52</text>
<text transform="translate(344.32,69.80) rotate(-90)" font-size="4.0" fill="#606060" text-anchor="start" font-weight="normal" letter-spacing="0.3">DI - 53</text>
<text transform="translate(357.27,69.80) rotate(-90)" font-size="4.0" fill="#606060" text-anchor="start" font-weight="normal" letter-spacing="0.3">DI - 54</text>
<text transform="translate(370.22,69.80) rotate(-90)" font-size="4.0" fill="#606060" text-anchor="start" font-weight="normal" letter-spacing="0.3">DI - 55</text>
<text transform="translate(383.17,69.80) rotate(-90)" font-size="4.0" fill="#606060" text-anchor="start" font-weight="normal" letter-spacing="0.3">DI com 43-56</text>
<text transform="translate(308.70,49.80) rotate(-90)" font-size="4.7" fill="#111" text-anchor="start" font-weight="normal" >-A1</text>
<text transform="translate(309.40,93.00) rotate(-90)" font-size="5.1" fill="#111" text-anchor="start" font-weight="normal" >-X41.5</text>
<text transform="translate(397.02,69.80) rotate(-90)" font-size="4.0" fill="#444" text-anchor="start" font-weight="normal" letter-spacing="0.3">COM</text>
<text transform="translate(402.79,69.80) rotate(-90)" font-size="4.0" fill="#444" text-anchor="start" font-weight="normal" letter-spacing="0.3">TM</text>
<text transform="translate(409.47,69.80) rotate(-90)" font-size="4.0" fill="#444" text-anchor="start" font-weight="normal" letter-spacing="0.3">NO</text>
<text transform="translate(422.92,69.80) rotate(-90)" font-size="4.0" fill="#444" text-anchor="start" font-weight="normal" letter-spacing="0.3">COM</text>
<text transform="translate(428.70,69.80) rotate(-90)" font-size="4.0" fill="#444" text-anchor="start" font-weight="normal" letter-spacing="0.3">Relay 59</text>
<text transform="translate(435.37,69.80) rotate(-90)" font-size="4.0" fill="#444" text-anchor="start" font-weight="normal" letter-spacing="0.3">NO</text>
<text transform="translate(448.82,69.80) rotate(-90)" font-size="4.0" fill="#444" text-anchor="start" font-weight="normal" letter-spacing="0.3">COM</text>
<text transform="translate(454.60,69.80) rotate(-90)" font-size="4.0" fill="#444" text-anchor="start" font-weight="normal" letter-spacing="0.3">15V</text>
<text transform="translate(461.27,69.80) rotate(-90)" font-size="4.0" fill="#444" text-anchor="start" font-weight="normal" letter-spacing="0.3">NO</text>
<text transform="translate(474.72,69.80) rotate(-90)" font-size="4.0" fill="#444" text-anchor="start" font-weight="normal" letter-spacing="0.3">COM</text>
<text transform="translate(480.50,69.80) rotate(-90)" font-size="4.0" fill="#444" text-anchor="start" font-weight="normal" letter-spacing="0.3">Relay 63</text>
<text transform="translate(487.17,69.80) rotate(-90)" font-size="4.0" fill="#444" text-anchor="start" font-weight="normal" letter-spacing="0.3">NO</text>
<path d="M504.30,40.30 H750.60 V90.00 L747.40,93.20 H507.50 L504.30,90.00 Z" fill="#fff" stroke="none"/>
<polyline points="504.5,90.30 504.5,40.5 750.5,40.5 750.5,90.30" fill="none" stroke="#000" stroke-width="1" shape-rendering="crispEdges"/>
<line x1="507.70" y1="93.5" x2="747.30" y2="93.5" stroke="#000" stroke-width="1" shape-rendering="crispEdges"/>
<path d="M504.5,90.30 L507.70,93.5 M750.5,90.30 L747.30,93.5" fill="none" stroke="#000" stroke-width="1"/>
<line x1="504.30" y1="72.40" x2="750.60" y2="72.40" stroke="#000" stroke-width="1"  shape-rendering="crispEdges"/>
<line x1="504.30" y1="80.40" x2="750.60" y2="80.40" stroke="#000" stroke-width="1"  shape-rendering="crispEdges"/>
<line x1="504.30" y1="86.60" x2="750.60" y2="86.60" stroke="#000" stroke-width="1"  shape-rendering="crispEdges"/>
<line x1="530.40" y1="40.30" x2="530.40" y2="80.40" stroke="#000" stroke-width="1"  shape-rendering="crispEdges"/>
<line x1="556.50" y1="40.30" x2="556.50" y2="80.40" stroke="#000" stroke-width="1"  shape-rendering="crispEdges"/>
<line x1="595.40" y1="40.30" x2="595.40" y2="80.40" stroke="#000" stroke-width="1"  shape-rendering="crispEdges"/>
<line x1="633.50" y1="40.30" x2="633.50" y2="80.40" stroke="#000" stroke-width="1"  shape-rendering="crispEdges"/>
<line x1="672.40" y1="40.30" x2="672.40" y2="80.40" stroke="#000" stroke-width="1"  shape-rendering="crispEdges"/>
<line x1="511.01" y1="80.40" x2="511.01" y2="93.20" stroke="#000" stroke-width="1"  shape-rendering="crispEdges"/>
<rect x="510.05" y="82.90" width="2.9" height="4.7" fill="#000"/>
<text x="511.01" y="78.35" font-size="5.4" fill="#000" text-anchor="middle" font-weight="normal" stroke="#000" stroke-width="0.15">98</text>
<line x1="523.97" y1="80.40" x2="523.97" y2="93.20" stroke="#000" stroke-width="1"  shape-rendering="crispEdges"/>
<rect x="522.05" y="82.90" width="2.9" height="4.7" fill="#000"/>
<text x="523.97" y="78.35" font-size="5.4" fill="#000" text-anchor="middle" font-weight="normal" stroke="#000" stroke-width="0.15">99</text>
<line x1="536.93" y1="80.40" x2="536.93" y2="93.20" stroke="#000" stroke-width="1"  shape-rendering="crispEdges"/>
<rect x="535.05" y="82.90" width="2.9" height="4.7" fill="#000"/>
<text x="536.93" y="78.35" font-size="5.4" fill="#000" text-anchor="middle" font-weight="normal" stroke="#000" stroke-width="0.15">100</text>
<line x1="549.89" y1="80.40" x2="549.89" y2="93.20" stroke="#000" stroke-width="1"  shape-rendering="crispEdges"/>
<rect x="548.05" y="82.90" width="2.9" height="4.7" fill="#000"/>
<text x="549.89" y="78.35" font-size="5.4" fill="#000" text-anchor="middle" font-weight="normal" stroke="#000" stroke-width="0.15">101</text>
<line x1="562.85" y1="80.40" x2="562.85" y2="93.20" stroke="#000" stroke-width="1"  shape-rendering="crispEdges"/>
<rect x="561.05" y="82.90" width="2.9" height="4.7" fill="#000"/>
<text x="562.85" y="78.35" font-size="5.4" fill="#000" text-anchor="middle" font-weight="normal" stroke="#000" stroke-width="0.15">102</text>
<line x1="575.81" y1="80.40" x2="575.81" y2="93.20" stroke="#000" stroke-width="1"  shape-rendering="crispEdges"/>
<rect x="574.05" y="82.90" width="2.9" height="4.7" fill="#000"/>
<text x="575.81" y="78.35" font-size="5.4" fill="#000" text-anchor="middle" font-weight="normal" stroke="#000" stroke-width="0.15">103</text>
<line x1="588.77" y1="80.40" x2="588.77" y2="93.20" stroke="#000" stroke-width="1"  shape-rendering="crispEdges"/>
<rect x="587.05" y="82.90" width="2.9" height="4.7" fill="#000"/>
<text x="588.77" y="78.35" font-size="5.4" fill="#000" text-anchor="middle" font-weight="normal" stroke="#000" stroke-width="0.15">104</text>
<line x1="601.73" y1="80.40" x2="601.73" y2="93.20" stroke="#000" stroke-width="1"  shape-rendering="crispEdges"/>
<rect x="600.05" y="82.90" width="2.9" height="4.7" fill="#000"/>
<text x="601.73" y="78.35" font-size="5.4" fill="#000" text-anchor="middle" font-weight="normal" stroke="#000" stroke-width="0.15">105</text>
<line x1="614.69" y1="80.40" x2="614.69" y2="93.20" stroke="#000" stroke-width="1"  shape-rendering="crispEdges"/>
<rect x="613.05" y="82.90" width="2.9" height="4.7" fill="#000"/>
<text x="614.69" y="78.35" font-size="5.4" fill="#000" text-anchor="middle" font-weight="normal" stroke="#000" stroke-width="0.15">106</text>
<line x1="627.65" y1="80.40" x2="627.65" y2="93.20" stroke="#000" stroke-width="1"  shape-rendering="crispEdges"/>
<rect x="626.05" y="82.90" width="2.9" height="4.7" fill="#000"/>
<text x="627.65" y="78.35" font-size="5.4" fill="#000" text-anchor="middle" font-weight="normal" stroke="#000" stroke-width="0.15">107</text>
<line x1="640.61" y1="80.40" x2="640.61" y2="93.20" stroke="#000" stroke-width="1"  shape-rendering="crispEdges"/>
<rect x="639.05" y="82.90" width="2.9" height="4.7" fill="#000"/>
<text x="640.61" y="78.35" font-size="5.4" fill="#000" text-anchor="middle" font-weight="normal" stroke="#000" stroke-width="0.15">108</text>
<line x1="653.57" y1="80.40" x2="653.57" y2="93.20" stroke="#000" stroke-width="1"  shape-rendering="crispEdges"/>
<rect x="652.05" y="82.90" width="2.9" height="4.7" fill="#000"/>
<text x="653.57" y="78.35" font-size="5.4" fill="#000" text-anchor="middle" font-weight="normal" stroke="#000" stroke-width="0.15">109</text>
<line x1="666.53" y1="80.40" x2="666.53" y2="93.20" stroke="#000" stroke-width="1"  shape-rendering="crispEdges"/>
<rect x="665.05" y="82.90" width="2.9" height="4.7" fill="#000"/>
<text x="666.53" y="78.35" font-size="5.4" fill="#000" text-anchor="middle" font-weight="normal" stroke="#000" stroke-width="0.15">110</text>
<line x1="679.49" y1="80.40" x2="679.49" y2="93.20" stroke="#000" stroke-width="1"  shape-rendering="crispEdges"/>
<rect x="678.05" y="82.90" width="2.9" height="4.7" fill="#000"/>
<text x="679.49" y="78.35" font-size="5.4" fill="#000" text-anchor="middle" font-weight="normal" stroke="#000" stroke-width="0.15">111</text>
<line x1="692.45" y1="80.40" x2="692.45" y2="93.20" stroke="#000" stroke-width="1"  shape-rendering="crispEdges"/>
<rect x="691.05" y="82.90" width="2.9" height="4.7" fill="#000"/>
<text x="692.45" y="78.35" font-size="5.4" fill="#000" text-anchor="middle" font-weight="normal" stroke="#000" stroke-width="0.15">112</text>
<line x1="705.41" y1="80.40" x2="705.41" y2="93.20" stroke="#000" stroke-width="1"  shape-rendering="crispEdges"/>
<rect x="704.05" y="82.90" width="2.9" height="4.7" fill="#000"/>
<text x="705.41" y="78.35" font-size="5.4" fill="#000" text-anchor="middle" font-weight="normal" stroke="#000" stroke-width="0.15">113</text>
<line x1="718.37" y1="80.40" x2="718.37" y2="93.20" stroke="#000" stroke-width="1"  shape-rendering="crispEdges"/>
<rect x="717.05" y="82.90" width="2.9" height="4.7" fill="#000"/>
<text x="718.37" y="78.35" font-size="5.4" fill="#000" text-anchor="middle" font-weight="normal" stroke="#000" stroke-width="0.15">114</text>
<line x1="731.33" y1="80.40" x2="731.33" y2="93.20" stroke="#000" stroke-width="1"  shape-rendering="crispEdges"/>
<rect x="730.05" y="82.90" width="2.9" height="4.7" fill="#000"/>
<text x="731.33" y="78.35" font-size="5.4" fill="#000" text-anchor="middle" font-weight="normal" stroke="#000" stroke-width="0.15">115</text>
<line x1="744.29" y1="80.40" x2="744.29" y2="93.20" stroke="#000" stroke-width="1"  shape-rendering="crispEdges"/>
<rect x="743.05" y="82.90" width="2.9" height="4.7" fill="#000"/>
<text x="744.29" y="78.35" font-size="5.4" fill="#000" text-anchor="middle" font-weight="normal" stroke="#000" stroke-width="0.15">116</text>
<text transform="translate(538.33,69.80) rotate(-90)" font-size="4.0" fill="#606060" text-anchor="start" font-weight="normal" letter-spacing="0.3">Signal</text>
<text transform="translate(551.29,69.80) rotate(-90)" font-size="4.0" fill="#606060" text-anchor="start" font-weight="normal" letter-spacing="0.3">GND</text>
<text transform="translate(677.49,69.80) rotate(-90)" font-size="4.0" fill="#606060" text-anchor="start" font-weight="normal" letter-spacing="0.3">DI com</text>
<text transform="translate(683.49,69.80) rotate(-90)" font-size="4.0" fill="#606060" text-anchor="start" font-weight="normal" letter-spacing="0.3">112-117</text>
<text transform="translate(693.85,69.80) rotate(-90)" font-size="4.0" fill="#606060" text-anchor="start" font-weight="normal" letter-spacing="0.3">DI - 112</text>
<text transform="translate(706.81,69.80) rotate(-90)" font-size="4.0" fill="#606060" text-anchor="start" font-weight="normal" letter-spacing="0.3">DI - 113</text>
<text transform="translate(719.77,69.80) rotate(-90)" font-size="4.0" fill="#606060" text-anchor="start" font-weight="normal" letter-spacing="0.3">DI - 114</text>
<text transform="translate(732.73,69.80) rotate(-90)" font-size="4.0" fill="#606060" text-anchor="start" font-weight="normal" letter-spacing="0.3">DI - 115</text>
<text transform="translate(745.69,69.80) rotate(-90)" font-size="4.0" fill="#606060" text-anchor="start" font-weight="normal" letter-spacing="0.3">DI - 116</text>
<text transform="translate(502.40,49.80) rotate(-90)" font-size="4.7" fill="#111" text-anchor="start" font-weight="normal" >-A1</text>
<text transform="translate(503.10,84.60) rotate(-90)" font-size="5.1" fill="#111" text-anchor="start" font-weight="normal" >-X41.11</text>
<path d="M763.5,40.3 H814.6 V86.4 H788.5 V90.3 Q788.5,93.3 785.5,93.3 H766.5 Q763.5,93.3 763.5,90.3 Z" fill="#fff" stroke="#000" stroke-width="1"/>
<line x1="788.50" y1="40.30" x2="788.50" y2="86.40" stroke="#000" stroke-width="1"  shape-rendering="crispEdges"/>
<line x1="763.50" y1="72.30" x2="814.60" y2="72.30" stroke="#000" stroke-width="1"  shape-rendering="crispEdges"/>
<line x1="763.50" y1="80.30" x2="814.60" y2="80.30" stroke="#000" stroke-width="1"  shape-rendering="crispEdges"/>
<line x1="763.50" y1="86.40" x2="788.50" y2="86.40" stroke="#000" stroke-width="1"  shape-rendering="crispEdges"/>
<line x1="776.30" y1="80.30" x2="776.30" y2="93.30" stroke="#000" stroke-width="1"  shape-rendering="crispEdges"/>
<rect x="775.25" y="84.90" width="2.5" height="5" fill="#000"/>
<line x1="801.60" y1="80.30" x2="801.60" y2="86.40" stroke="#000" stroke-width="1"  shape-rendering="crispEdges"/>
<line x1="800.60" y1="86.40" x2="801.60" y2="83.30" stroke="#000" stroke-width="0.5" />
<line x1="802.60" y1="86.40" x2="801.60" y2="83.30" stroke="#000" stroke-width="0.5" />
<text transform="translate(761.70,49.50) rotate(-90)" font-size="4.6" fill="#555" text-anchor="start" font-weight="normal" >-A1</text>
<g transform="translate(801.6,60)" fill="#000" stroke="none"><rect x="-1.3" y="-3" width="2.6" height="9.5"/><polygon points="0,-6.5 -2.2,-2.5 2.2,-2.5"/><path d="M-3.6,-2.5 h1.8 v3.2 l1.4,1.4 v1.6 l-3.2,-2.4 z"/><path d="M3.6,-4 h-1.9 v4.4 l-1.4,1.4 v1.6 l3.3,-2.4 z"/></g>
<rect x="110.80" y="302.90" width="3.00" height="5.80" stroke="none" stroke-width="0" fill="#fff" shape-rendering="crispEdges"/>
<line x1="112.30" y1="308.90" x2="108.00" y2="301.80" stroke="#000" stroke-width="0.8" />
<text transform="translate(110.80,300.50) rotate(-90)" font-size="4.9" fill="#000" text-anchor="start" font-weight="normal" >-S12</text>
<text transform="translate(116.10,300.60) rotate(-90)" font-size="4.2" fill="#555" text-anchor="start" font-weight="normal" >14</text>
<text transform="translate(116.10,314.60) rotate(-90)" font-size="4.2" fill="#555" text-anchor="start" font-weight="normal" >11</text>
<line x1="109.90" y1="277.10" x2="110.70" y2="277.50" stroke="#333" stroke-width="0.5" />
<line x1="110.50" y1="277.50" x2="114.20" y2="274.90" stroke="#000" stroke-width="0.9" />
<text transform="translate(110.40,276.90) rotate(-90)" font-size="3.3" fill="#6a6a6a" text-anchor="start" font-weight="normal" >170</text>
<text transform="translate(110.40,268.26) rotate(-90)" font-size="3.3" fill="#6a6a6a" text-anchor="start" font-weight="normal" >a5</text>
<line x1="109.90" y1="330.10" x2="110.70" y2="330.50" stroke="#333" stroke-width="0.5" />
<line x1="110.50" y1="330.50" x2="114.20" y2="327.90" stroke="#000" stroke-width="0.9" />
<text transform="translate(110.40,329.90) rotate(-90)" font-size="3.3" fill="#6a6a6a" text-anchor="start" font-weight="normal" >5</text>
<text transform="translate(110.40,324.82) rotate(-90)" font-size="3.3" fill="#6a6a6a" text-anchor="start" font-weight="normal" >a5</text>
<rect x="199.16" y="302.90" width="3.00" height="5.80" stroke="none" stroke-width="0" fill="#fff" shape-rendering="crispEdges"/>
<line x1="200.66" y1="308.90" x2="196.36" y2="301.80" stroke="#000" stroke-width="0.8" />
<text transform="translate(199.16,296.00) rotate(-90)" font-size="4.9" fill="#000" text-anchor="start" font-weight="normal" >-S11</text>
<text transform="translate(204.46,300.60) rotate(-90)" font-size="4.2" fill="#555" text-anchor="start" font-weight="normal" >14</text>
<text transform="translate(204.46,314.60) rotate(-90)" font-size="4.2" fill="#555" text-anchor="start" font-weight="normal" >11</text>
<line x1="198.26" y1="279.80" x2="199.06" y2="280.20" stroke="#333" stroke-width="0.5" />
<line x1="198.86" y1="280.20" x2="202.56" y2="277.60" stroke="#000" stroke-width="0.9" />
<text transform="translate(198.76,279.60) rotate(-90)" font-size="3.3" fill="#6a6a6a" text-anchor="start" font-weight="normal" >6</text>
<text transform="translate(198.76,274.52) rotate(-90)" font-size="3.3" fill="#6a6a6a" text-anchor="start" font-weight="normal" >a3</text>
<line x1="198.26" y1="325.80" x2="199.06" y2="326.20" stroke="#333" stroke-width="0.5" />
<line x1="198.86" y1="326.20" x2="202.56" y2="323.60" stroke="#000" stroke-width="0.9" />
<text transform="translate(198.76,325.60) rotate(-90)" font-size="3.3" fill="#6a6a6a" text-anchor="start" font-weight="normal" >5</text>
<text transform="translate(198.76,320.52) rotate(-90)" font-size="3.3" fill="#6a6a6a" text-anchor="start" font-weight="normal" >a5</text>
<rect x="225.08" y="302.90" width="3.00" height="5.80" stroke="none" stroke-width="0" fill="#fff" shape-rendering="crispEdges"/>
<line x1="226.58" y1="308.90" x2="222.28" y2="301.80" stroke="#000" stroke-width="0.8" />
<text transform="translate(225.08,300.50) rotate(-90)" font-size="4.9" fill="#000" text-anchor="start" font-weight="normal" >-Q16</text>
<text transform="translate(230.38,300.60) rotate(-90)" font-size="4.2" fill="#555" text-anchor="start" font-weight="normal" >13</text>
<text transform="translate(230.38,314.60) rotate(-90)" font-size="4.2" fill="#555" text-anchor="start" font-weight="normal" >11</text>
<line x1="224.18" y1="279.80" x2="224.98" y2="280.20" stroke="#333" stroke-width="0.5" />
<line x1="224.78" y1="280.20" x2="228.48" y2="277.60" stroke="#000" stroke-width="0.9" />
<text transform="translate(224.68,279.60) rotate(-90)" font-size="3.3" fill="#6a6a6a" text-anchor="start" font-weight="normal" >12</text>
<text transform="translate(224.68,272.74) rotate(-90)" font-size="3.3" fill="#6a6a6a" text-anchor="start" font-weight="normal" >a5</text>
<line x1="224.18" y1="325.80" x2="224.98" y2="326.20" stroke="#333" stroke-width="0.5" />
<line x1="224.78" y1="326.20" x2="228.48" y2="323.60" stroke="#000" stroke-width="0.9" />
<text transform="translate(224.68,325.60) rotate(-90)" font-size="3.3" fill="#6a6a6a" text-anchor="start" font-weight="normal" >5</text>
<text transform="translate(224.68,320.52) rotate(-90)" font-size="3.3" fill="#6a6a6a" text-anchor="start" font-weight="normal" >a5</text>
<rect x="238.04" y="302.90" width="3.00" height="5.80" stroke="none" stroke-width="0" fill="#fff" shape-rendering="crispEdges"/>
<line x1="239.54" y1="308.90" x2="235.24" y2="301.80" stroke="#000" stroke-width="0.8" />
<text transform="translate(238.04,300.50) rotate(-90)" font-size="4.9" fill="#000" text-anchor="start" font-weight="normal" >-U1</text>
<text transform="translate(243.04,303.90) rotate(-90)" font-size="4.0" fill="#555" text-anchor="start" font-weight="normal" >K1K</text>
<text transform="translate(243.04,314.60) rotate(-90)" font-size="4.0" fill="#555" text-anchor="start" font-weight="normal" >K1C</text>
<line x1="237.14" y1="279.80" x2="237.94" y2="280.20" stroke="#333" stroke-width="0.5" />
<line x1="237.74" y1="280.20" x2="241.44" y2="277.60" stroke="#000" stroke-width="0.9" />
<text transform="translate(237.64,279.60) rotate(-90)" font-size="3.3" fill="#6a6a6a" text-anchor="start" font-weight="normal" >71</text>
<text transform="translate(237.64,272.74) rotate(-90)" font-size="3.3" fill="#6a6a6a" text-anchor="start" font-weight="normal" >a5</text>
<line x1="237.14" y1="325.80" x2="237.94" y2="326.20" stroke="#333" stroke-width="0.5" />
<line x1="237.74" y1="326.20" x2="241.44" y2="323.60" stroke="#000" stroke-width="0.9" />
<text transform="translate(237.64,325.60) rotate(-90)" font-size="3.3" fill="#6a6a6a" text-anchor="start" font-weight="normal" >5</text>
<text transform="translate(237.64,320.52) rotate(-90)" font-size="3.3" fill="#6a6a6a" text-anchor="start" font-weight="normal" >a5</text>
<rect x="276.92" y="302.90" width="3.00" height="5.80" stroke="none" stroke-width="0" fill="#fff" shape-rendering="crispEdges"/>
<line x1="278.42" y1="308.90" x2="274.12" y2="301.80" stroke="#000" stroke-width="0.8" />
<text transform="translate(276.92,300.50) rotate(-90)" font-size="4.9" fill="#000" text-anchor="start" font-weight="normal" >-K7</text>
<text transform="translate(282.22,300.60) rotate(-90)" font-size="4.2" fill="#555" text-anchor="start" font-weight="normal" >14</text>
<text transform="translate(282.22,314.60) rotate(-90)" font-size="4.2" fill="#555" text-anchor="start" font-weight="normal" >11</text>
<line x1="276.02" y1="279.80" x2="276.82" y2="280.20" stroke="#333" stroke-width="0.5" />
<line x1="276.62" y1="280.20" x2="280.32" y2="277.60" stroke="#000" stroke-width="0.9" />
<text transform="translate(276.52,279.60) rotate(-90)" font-size="3.3" fill="#6a6a6a" text-anchor="start" font-weight="normal" >13</text>
<text transform="translate(276.52,272.74) rotate(-90)" font-size="3.3" fill="#6a6a6a" text-anchor="start" font-weight="normal" >a5</text>
<line x1="276.02" y1="325.80" x2="276.82" y2="326.20" stroke="#333" stroke-width="0.5" />
<line x1="276.62" y1="326.20" x2="280.32" y2="323.60" stroke="#000" stroke-width="0.9" />
<text transform="translate(276.52,325.60) rotate(-90)" font-size="3.3" fill="#6a6a6a" text-anchor="start" font-weight="normal" >5</text>
<text transform="translate(276.52,320.52) rotate(-90)" font-size="3.3" fill="#6a6a6a" text-anchor="start" font-weight="normal" >a5</text>
<rect x="303.00" y="302.90" width="3.00" height="5.80" stroke="none" stroke-width="0" fill="#fff" shape-rendering="crispEdges"/>
<line x1="304.50" y1="308.90" x2="300.20" y2="301.80" stroke="#000" stroke-width="0.8" />
<text transform="translate(303.00,300.50) rotate(-90)" font-size="4.9" fill="#000" text-anchor="start" font-weight="normal" >-K201</text>
<text transform="translate(308.30,300.60) rotate(-90)" font-size="4.2" fill="#555" text-anchor="start" font-weight="normal" >14</text>
<text transform="translate(308.30,314.60) rotate(-90)" font-size="4.2" fill="#555" text-anchor="start" font-weight="normal" >11</text>
<line x1="302.10" y1="279.80" x2="302.90" y2="280.20" stroke="#333" stroke-width="0.5" />
<line x1="302.70" y1="280.20" x2="306.40" y2="277.60" stroke="#000" stroke-width="0.9" />
<text transform="translate(302.60,279.60) rotate(-90)" font-size="3.3" fill="#6a6a6a" text-anchor="start" font-weight="normal" >190</text>
<text transform="translate(302.60,270.96) rotate(-90)" font-size="3.3" fill="#6a6a6a" text-anchor="start" font-weight="normal" >a5</text>
<line x1="302.10" y1="325.80" x2="302.90" y2="326.20" stroke="#333" stroke-width="0.5" />
<line x1="302.70" y1="326.20" x2="306.40" y2="323.60" stroke="#000" stroke-width="0.9" />
<text transform="translate(302.60,325.60) rotate(-90)" font-size="3.3" fill="#6a6a6a" text-anchor="start" font-weight="normal" >5</text>
<text transform="translate(302.60,320.52) rotate(-90)" font-size="3.3" fill="#6a6a6a" text-anchor="start" font-weight="normal" >a5</text>
<line x1="109.70" y1="306.00" x2="106.00" y2="306.00" stroke="#333" stroke-width="0.5" stroke-dasharray="1 0.6"/>
<polygon points="103.10,304.3 103.10,307.7 106.30,306" fill="#000"/>
<line x1="103.10" y1="304.20" x2="103.10" y2="307.80" stroke="#000" stroke-width="1"  shape-rendering="crispEdges"/>
<line x1="198.06" y1="306.00" x2="194.36" y2="306.00" stroke="#333" stroke-width="0.5" stroke-dasharray="1 0.6"/>
<line x1="190.76" y1="304.30" x2="190.76" y2="307.90" stroke="#000" stroke-width="1.0"  shape-rendering="crispEdges"/>
<line x1="190.76" y1="306.00" x2="194.36" y2="306.00" stroke="#000" stroke-width="1"  shape-rendering="crispEdges"/>
<text transform="translate(198.46,433.00) rotate(-90)" font-size="4.7" fill="#222" text-anchor="start" font-weight="normal" >-X23</text>
<line x1="198.26" y1="419.50" x2="199.06" y2="419.90" stroke="#333" stroke-width="0.5" />
<line x1="198.86" y1="419.90" x2="202.56" y2="417.30" stroke="#000" stroke-width="0.9" />
<text transform="translate(198.76,419.30) rotate(-90)" font-size="3.3" fill="#6a6a6a" text-anchor="start" font-weight="normal" >5</text>
<text transform="translate(198.76,414.22) rotate(-90)" font-size="3.3" fill="#6a6a6a" text-anchor="start" font-weight="normal" >a5</text>
<circle cx="200.50" cy="435.50" r="1.2" fill="#fff" stroke="#000" stroke-width="0.7"/>
<text transform="translate(224.38,433.00) rotate(-90)" font-size="4.7" fill="#222" text-anchor="start" font-weight="normal" >-X23</text>
<line x1="224.18" y1="419.50" x2="224.98" y2="419.90" stroke="#333" stroke-width="0.5" />
<line x1="224.78" y1="419.90" x2="228.48" y2="417.30" stroke="#000" stroke-width="0.9" />
<text transform="translate(224.68,419.30) rotate(-90)" font-size="3.3" fill="#6a6a6a" text-anchor="start" font-weight="normal" >5</text>
<text transform="translate(224.68,414.22) rotate(-90)" font-size="3.3" fill="#6a6a6a" text-anchor="start" font-weight="normal" >a5</text>
<circle cx="226.50" cy="435.50" r="1.2" fill="#fff" stroke="#000" stroke-width="0.7"/>
<text transform="translate(237.34,433.00) rotate(-90)" font-size="4.7" fill="#222" text-anchor="start" font-weight="normal" >-X23</text>
<line x1="237.14" y1="419.50" x2="237.94" y2="419.90" stroke="#333" stroke-width="0.5" />
<line x1="237.74" y1="419.90" x2="241.44" y2="417.30" stroke="#000" stroke-width="0.9" />
<text transform="translate(237.64,419.30) rotate(-90)" font-size="3.3" fill="#6a6a6a" text-anchor="start" font-weight="normal" >5</text>
<text transform="translate(237.64,414.22) rotate(-90)" font-size="3.3" fill="#6a6a6a" text-anchor="start" font-weight="normal" >a5</text>
<circle cx="239.50" cy="435.50" r="1.2" fill="#fff" stroke="#000" stroke-width="0.7"/>
<text transform="translate(276.22,433.00) rotate(-90)" font-size="4.7" fill="#222" text-anchor="start" font-weight="normal" >-X23</text>
<line x1="276.02" y1="419.50" x2="276.82" y2="419.90" stroke="#333" stroke-width="0.5" />
<line x1="276.62" y1="419.90" x2="280.32" y2="417.30" stroke="#000" stroke-width="0.9" />
<text transform="translate(276.52,419.30) rotate(-90)" font-size="3.3" fill="#6a6a6a" text-anchor="start" font-weight="normal" >5</text>
<text transform="translate(276.52,414.22) rotate(-90)" font-size="3.3" fill="#6a6a6a" text-anchor="start" font-weight="normal" >a5</text>
<circle cx="278.50" cy="435.50" r="1.2" fill="#fff" stroke="#000" stroke-width="0.7"/>
<text transform="translate(302.30,433.00) rotate(-90)" font-size="4.7" fill="#222" text-anchor="start" font-weight="normal" >-X23</text>
<line x1="302.10" y1="419.50" x2="302.90" y2="419.90" stroke="#333" stroke-width="0.5" />
<line x1="302.70" y1="419.90" x2="306.40" y2="417.30" stroke="#000" stroke-width="0.9" />
<text transform="translate(302.60,419.30) rotate(-90)" font-size="3.3" fill="#6a6a6a" text-anchor="start" font-weight="normal" >5</text>
<text transform="translate(302.60,414.22) rotate(-90)" font-size="3.3" fill="#6a6a6a" text-anchor="start" font-weight="normal" >a5</text>
<circle cx="304.50" cy="435.50" r="1.2" fill="#fff" stroke="#000" stroke-width="0.7"/>
<text transform="translate(405.47,433.00) rotate(-90)" font-size="4.7" fill="#222" text-anchor="start" font-weight="normal" >-X23</text>
<line x1="405.27" y1="419.50" x2="406.07" y2="419.90" stroke="#333" stroke-width="0.5" />
<line x1="405.87" y1="419.90" x2="409.57" y2="417.30" stroke="#000" stroke-width="0.9" />
<text transform="translate(405.77,419.30) rotate(-90)" font-size="3.3" fill="#6a6a6a" text-anchor="start" font-weight="normal" >5</text>
<text transform="translate(405.77,414.22) rotate(-90)" font-size="3.3" fill="#6a6a6a" text-anchor="start" font-weight="normal" >a5</text>
<circle cx="407.50" cy="435.50" r="1.2" fill="#fff" stroke="#000" stroke-width="0.7"/>
<text transform="translate(457.27,433.00) rotate(-90)" font-size="4.7" fill="#222" text-anchor="start" font-weight="normal" >-X23</text>
<line x1="457.07" y1="419.50" x2="457.87" y2="419.90" stroke="#333" stroke-width="0.5" />
<line x1="457.67" y1="419.90" x2="461.37" y2="417.30" stroke="#000" stroke-width="0.9" />
<text transform="translate(457.57,419.30) rotate(-90)" font-size="3.3" fill="#6a6a6a" text-anchor="start" font-weight="normal" >5</text>
<text transform="translate(457.57,414.22) rotate(-90)" font-size="3.3" fill="#6a6a6a" text-anchor="start" font-weight="normal" >a5</text>
<circle cx="459.50" cy="435.50" r="1.2" fill="#fff" stroke="#000" stroke-width="0.7"/>
<line x1="109.90" y1="419.50" x2="110.70" y2="419.90" stroke="#333" stroke-width="0.5" />
<line x1="110.50" y1="419.90" x2="114.20" y2="417.30" stroke="#000" stroke-width="0.9" />
<text transform="translate(110.40,419.30) rotate(-90)" font-size="3.3" fill="#6a6a6a" text-anchor="start" font-weight="normal" >5</text>
<text transform="translate(110.40,414.22) rotate(-90)" font-size="3.3" fill="#6a6a6a" text-anchor="start" font-weight="normal" >a5</text>
<rect x="362.50" y="191.50" width="13.00" height="7.00" stroke="#000" stroke-width="1.0" fill="#fff" shape-rendering="crispEdges"/>
<text transform="translate(367.00,186.90) rotate(-90)" font-size="5.0" fill="#000" text-anchor="start" font-weight="normal" >-K5</text>
<text transform="translate(372.10,189.00) rotate(-90)" font-size="3.8" fill="#333" text-anchor="start" font-weight="normal" >A1</text>
<text transform="translate(372.10,204.00) rotate(-90)" font-size="3.8" fill="#333" text-anchor="start" font-weight="normal" >A2</text>
<line x1="366.30" y1="176.10" x2="367.10" y2="176.50" stroke="#333" stroke-width="0.5" />
<line x1="366.90" y1="176.50" x2="370.60" y2="173.90" stroke="#000" stroke-width="0.9" />
<text transform="translate(366.80,175.90) rotate(-90)" font-size="3.3" fill="#6a6a6a" text-anchor="start" font-weight="normal" >4</text>
<text transform="translate(366.80,170.82) rotate(-90)" font-size="3.3" fill="#6a6a6a" text-anchor="start" font-weight="normal" >a3</text>
<line x1="366.30" y1="221.60" x2="367.10" y2="222.00" stroke="#333" stroke-width="0.5" />
<line x1="366.90" y1="222.00" x2="370.60" y2="219.40" stroke="#000" stroke-width="0.9" />
<text transform="translate(366.80,221.40) rotate(-90)" font-size="3.3" fill="#6a6a6a" text-anchor="start" font-weight="normal" >6</text>
<text transform="translate(366.80,216.32) rotate(-90)" font-size="3.3" fill="#6a6a6a" text-anchor="start" font-weight="normal" >a3</text>
<rect x="401.50" y="303.50" width="13.00" height="6.00" stroke="#000" stroke-width="1.0" fill="#fff" shape-rendering="crispEdges"/>
<text transform="translate(405.97,298.80) rotate(-90)" font-size="5.0" fill="#000" text-anchor="start" font-weight="normal" >-K200</text>
<text transform="translate(411.07,300.90) rotate(-90)" font-size="3.8" fill="#333" text-anchor="start" font-weight="normal" >A1</text>
<text transform="translate(411.07,314.90) rotate(-90)" font-size="3.8" fill="#333" text-anchor="start" font-weight="normal" >A2</text>
<rect x="453.50" y="303.50" width="13.00" height="6.00" stroke="#000" stroke-width="1.0" fill="#fff" shape-rendering="crispEdges"/>
<text transform="translate(457.77,298.80) rotate(-90)" font-size="5.0" fill="#000" text-anchor="start" font-weight="normal" >-K25</text>
<text transform="translate(462.77,295.30) rotate(-90)" font-size="2.6" fill="#555" text-anchor="start" font-weight="normal" >A1</text>
<text transform="translate(462.77,316.80) rotate(-90)" font-size="2.6" fill="#555" text-anchor="start" font-weight="normal" >A2</text>
<line x1="392.32" y1="275.30" x2="393.12" y2="275.70" stroke="#333" stroke-width="0.5" />
<line x1="392.92" y1="275.70" x2="396.62" y2="273.10" stroke="#000" stroke-width="0.9" />
<text transform="translate(392.82,275.10) rotate(-90)" font-size="3.3" fill="#6a6a6a" text-anchor="start" font-weight="normal" >4</text>
<text transform="translate(392.82,270.02) rotate(-90)" font-size="3.3" fill="#6a6a6a" text-anchor="start" font-weight="normal" >a5</text>
<line x1="405.27" y1="275.30" x2="406.07" y2="275.70" stroke="#333" stroke-width="0.5" />
<line x1="405.87" y1="275.70" x2="409.57" y2="273.10" stroke="#000" stroke-width="0.9" />
<text transform="translate(405.77,275.10) rotate(-90)" font-size="3.3" fill="#6a6a6a" text-anchor="start" font-weight="normal" >191</text>
<text transform="translate(405.77,266.46) rotate(-90)" font-size="3.3" fill="#6a6a6a" text-anchor="start" font-weight="normal" >a5</text>
<line x1="405.27" y1="329.50" x2="406.07" y2="329.90" stroke="#333" stroke-width="0.5" />
<line x1="405.87" y1="329.90" x2="409.57" y2="327.30" stroke="#000" stroke-width="0.9" />
<text transform="translate(405.77,329.30) rotate(-90)" font-size="3.3" fill="#6a6a6a" text-anchor="start" font-weight="normal" >5</text>
<text transform="translate(405.77,324.22) rotate(-90)" font-size="3.3" fill="#6a6a6a" text-anchor="start" font-weight="normal" >a5</text>
<line x1="444.12" y1="275.30" x2="444.92" y2="275.70" stroke="#333" stroke-width="0.5" />
<line x1="444.72" y1="275.70" x2="448.42" y2="273.10" stroke="#000" stroke-width="0.9" />
<text transform="translate(444.62,275.10) rotate(-90)" font-size="3.3" fill="#6a6a6a" text-anchor="start" font-weight="normal" >4</text>
<text transform="translate(444.62,270.02) rotate(-90)" font-size="3.3" fill="#6a6a6a" text-anchor="start" font-weight="normal" >a5</text>
<line x1="457.07" y1="275.30" x2="457.87" y2="275.70" stroke="#333" stroke-width="0.5" />
<line x1="457.67" y1="275.70" x2="461.37" y2="273.10" stroke="#000" stroke-width="0.9" />
<text transform="translate(457.57,275.10) rotate(-90)" font-size="3.3" fill="#6a6a6a" text-anchor="start" font-weight="normal" >192</text>
<text transform="translate(457.57,266.46) rotate(-90)" font-size="3.3" fill="#6a6a6a" text-anchor="start" font-weight="normal" >a5</text>
<line x1="457.07" y1="329.60" x2="457.87" y2="330.00" stroke="#333" stroke-width="0.5" />
<line x1="457.67" y1="330.00" x2="461.37" y2="327.40" stroke="#000" stroke-width="0.9" />
<text transform="translate(457.57,329.40) rotate(-90)" font-size="3.3" fill="#6a6a6a" text-anchor="start" font-weight="normal" >5</text>
<text transform="translate(457.57,324.32) rotate(-90)" font-size="3.3" fill="#6a6a6a" text-anchor="start" font-weight="normal" >a5</text>
<text transform="translate(391.52,284.00) rotate(-90)" font-size="4.7" fill="#222" text-anchor="start" font-weight="normal" >-X23</text>
<text transform="translate(443.32,284.00) rotate(-90)" font-size="4.7" fill="#222" text-anchor="start" font-weight="normal" >-X23</text>
<polyline points="459.47,301.9 465.27,296.7 471.97,296.7 471.97,315.2 466.47,315.2 460.37,309.8" fill="none" stroke="#777" stroke-width="0.9"/>
<polygon points="468.87,308.5 474.97,308.5 471.97,303.9" fill="#fff" stroke="#222" stroke-width="0.7"/>
<line x1="468.67" y1="303.70" x2="475.17" y2="303.70" stroke="#222" stroke-width="1"  shape-rendering="crispEdges"/>
<line x1="86.5" y1="253.5" x2="125.5" y2="253.5" stroke="#000" stroke-width="1" stroke-dasharray="7.9 5.8" stroke-dashoffset="1.1"/>
<line x1="86.5" y1="253.5" x2="125.5" y2="253.5" stroke="#999" stroke-width="1" stroke-dasharray="1 12.7" stroke-dashoffset="4.5"/>
<line x1="86.5" y1="334.5" x2="125.5" y2="334.5" stroke="#000" stroke-width="1" stroke-dasharray="7.9 5.8" stroke-dashoffset="1.1"/>
<line x1="86.5" y1="334.5" x2="125.5" y2="334.5" stroke="#999" stroke-width="1" stroke-dasharray="1 12.7" stroke-dashoffset="4.5"/>
<line x1="86.5" y1="253.5" x2="86.5" y2="334.5" stroke="#000" stroke-width="1" stroke-dasharray="7.9 5.8" stroke-dashoffset="2.2"/>
<line x1="86.5" y1="253.5" x2="86.5" y2="334.5" stroke="#999" stroke-width="1" stroke-dasharray="1 12.7" stroke-dashoffset="5.6"/>
<line x1="125.5" y1="253.5" x2="125.5" y2="334.5" stroke="#000" stroke-width="1" stroke-dasharray="7.9 5.8" stroke-dashoffset="2.2"/>
<line x1="125.5" y1="253.5" x2="125.5" y2="334.5" stroke="#999" stroke-width="1" stroke-dasharray="1 12.7" stroke-dashoffset="5.6"/>
<text transform="translate(92.40,300.50) rotate(-90)" font-size="5.0" fill="#000" text-anchor="start" font-weight="normal" >O2 - Dual frequency</text>
<line x1="342.5" y1="161.5" x2="381.5" y2="161.5" stroke="#000" stroke-width="1" stroke-dasharray="7.9 5.8" stroke-dashoffset="1.1"/>
<line x1="342.5" y1="161.5" x2="381.5" y2="161.5" stroke="#999" stroke-width="1" stroke-dasharray="1 12.7" stroke-dashoffset="4.5"/>
<line x1="342.5" y1="247.5" x2="381.5" y2="247.5" stroke="#000" stroke-width="1" stroke-dasharray="7.9 5.8" stroke-dashoffset="1.1"/>
<line x1="342.5" y1="247.5" x2="381.5" y2="247.5" stroke="#999" stroke-width="1" stroke-dasharray="1 12.7" stroke-dashoffset="4.5"/>
<line x1="342.5" y1="161.5" x2="342.5" y2="247.5" stroke="#000" stroke-width="1" stroke-dasharray="7.9 5.8" stroke-dashoffset="2.2"/>
<line x1="342.5" y1="161.5" x2="342.5" y2="247.5" stroke="#999" stroke-width="1" stroke-dasharray="1 12.7" stroke-dashoffset="5.6"/>
<line x1="381.5" y1="161.5" x2="381.5" y2="247.5" stroke="#000" stroke-width="1" stroke-dasharray="7.9 5.8" stroke-dashoffset="2.2"/>
<line x1="381.5" y1="161.5" x2="381.5" y2="247.5" stroke="#999" stroke-width="1" stroke-dasharray="1 12.7" stroke-dashoffset="5.6"/>
<text transform="translate(348.50,200.30) rotate(-90)" font-size="5.2" fill="#000" text-anchor="start" font-weight="normal" >O10 - Cold Start</text>
<line x1="291.5" y1="259.5" x2="420.5" y2="259.5" stroke="#000" stroke-width="1" stroke-dasharray="7.9 5.8" stroke-dashoffset="1.1"/>
<line x1="291.5" y1="259.5" x2="420.5" y2="259.5" stroke="#999" stroke-width="1" stroke-dasharray="1 12.7" stroke-dashoffset="4.5"/>
<line x1="291.5" y1="460.5" x2="420.5" y2="460.5" stroke="#000" stroke-width="1" stroke-dasharray="7.9 5.8" stroke-dashoffset="1.1"/>
<line x1="291.5" y1="460.5" x2="420.5" y2="460.5" stroke="#999" stroke-width="1" stroke-dasharray="1 12.7" stroke-dashoffset="4.5"/>
<line x1="291.5" y1="259.5" x2="291.5" y2="460.5" stroke="#000" stroke-width="1" stroke-dasharray="7.9 5.8" stroke-dashoffset="2.2"/>
<line x1="291.5" y1="259.5" x2="291.5" y2="460.5" stroke="#999" stroke-width="1" stroke-dasharray="1 12.7" stroke-dashoffset="5.6"/>
<line x1="420.5" y1="259.5" x2="420.5" y2="460.5" stroke="#000" stroke-width="1" stroke-dasharray="7.9 5.8" stroke-dashoffset="2.2"/>
<line x1="420.5" y1="259.5" x2="420.5" y2="460.5" stroke="#999" stroke-width="1" stroke-dasharray="1 12.7" stroke-dashoffset="5.6"/>
<line x1="433.5" y1="259.5" x2="478.5" y2="259.5" stroke="#000" stroke-width="1" stroke-dasharray="7.9 5.8" stroke-dashoffset="1.1"/>
<line x1="433.5" y1="259.5" x2="478.5" y2="259.5" stroke="#999" stroke-width="1" stroke-dasharray="1 12.7" stroke-dashoffset="4.5"/>
<line x1="433.5" y1="460.5" x2="478.5" y2="460.5" stroke="#000" stroke-width="1" stroke-dasharray="7.9 5.8" stroke-dashoffset="1.1"/>
<line x1="433.5" y1="460.5" x2="478.5" y2="460.5" stroke="#999" stroke-width="1" stroke-dasharray="1 12.7" stroke-dashoffset="4.5"/>
<line x1="433.5" y1="259.5" x2="433.5" y2="460.5" stroke="#000" stroke-width="1" stroke-dasharray="7.9 5.8" stroke-dashoffset="2.2"/>
<line x1="433.5" y1="259.5" x2="433.5" y2="460.5" stroke="#999" stroke-width="1" stroke-dasharray="1 12.7" stroke-dashoffset="5.6"/>
<line x1="478.5" y1="259.5" x2="478.5" y2="460.5" stroke="#000" stroke-width="1" stroke-dasharray="7.9 5.8" stroke-dashoffset="2.2"/>
<line x1="478.5" y1="259.5" x2="478.5" y2="460.5" stroke="#999" stroke-width="1" stroke-dasharray="1 12.7" stroke-dashoffset="5.6"/>
<line x1="486.5" y1="259.5" x2="601.5" y2="259.5" stroke="#000" stroke-width="1" stroke-dasharray="7.9 5.8" stroke-dashoffset="1.1"/>
<line x1="486.5" y1="259.5" x2="601.5" y2="259.5" stroke="#999" stroke-width="1" stroke-dasharray="1 12.7" stroke-dashoffset="4.5"/>
<line x1="486.5" y1="460.5" x2="601.5" y2="460.5" stroke="#000" stroke-width="1" stroke-dasharray="7.9 5.8" stroke-dashoffset="1.1"/>
<line x1="486.5" y1="460.5" x2="601.5" y2="460.5" stroke="#999" stroke-width="1" stroke-dasharray="1 12.7" stroke-dashoffset="4.5"/>
<line x1="486.5" y1="259.5" x2="486.5" y2="460.5" stroke="#000" stroke-width="1" stroke-dasharray="7.9 5.8" stroke-dashoffset="2.2"/>
<line x1="486.5" y1="259.5" x2="486.5" y2="460.5" stroke="#999" stroke-width="1" stroke-dasharray="1 12.7" stroke-dashoffset="5.6"/>
<line x1="601.5" y1="259.5" x2="601.5" y2="460.5" stroke="#000" stroke-width="1" stroke-dasharray="7.9 5.8" stroke-dashoffset="2.2"/>
<line x1="601.5" y1="259.5" x2="601.5" y2="460.5" stroke="#999" stroke-width="1" stroke-dasharray="1 12.7" stroke-dashoffset="5.6"/>
<line x1="827.5" y1="200.5" x2="879.5" y2="200.5" stroke="#000" stroke-width="1" stroke-dasharray="7.9 5.8" stroke-dashoffset="1.1"/>
<line x1="827.5" y1="200.5" x2="879.5" y2="200.5" stroke="#999" stroke-width="1" stroke-dasharray="1 12.7" stroke-dashoffset="4.5"/>
<line x1="827.5" y1="314.5" x2="879.5" y2="314.5" stroke="#000" stroke-width="1" stroke-dasharray="7.9 5.8" stroke-dashoffset="1.1"/>
<line x1="827.5" y1="314.5" x2="879.5" y2="314.5" stroke="#999" stroke-width="1" stroke-dasharray="1 12.7" stroke-dashoffset="4.5"/>
<line x1="827.5" y1="200.5" x2="827.5" y2="314.5" stroke="#000" stroke-width="1" stroke-dasharray="7.9 5.8" stroke-dashoffset="2.2"/>
<line x1="827.5" y1="200.5" x2="827.5" y2="314.5" stroke="#999" stroke-width="1" stroke-dasharray="1 12.7" stroke-dashoffset="5.6"/>
<line x1="879.5" y1="200.5" x2="879.5" y2="314.5" stroke="#000" stroke-width="1" stroke-dasharray="7.9 5.8" stroke-dashoffset="2.2"/>
<line x1="879.5" y1="200.5" x2="879.5" y2="314.5" stroke="#999" stroke-width="1" stroke-dasharray="1 12.7" stroke-dashoffset="5.6"/>
<polyline points="511.50,311.40 511.50,397.30 667.60,397.30 667.60,317.00" stroke="#000" stroke-width="1" fill="none"  shape-rendering="crispEdges"/>
<polyline points="524.50,311.40 524.50,390.60 654.70,390.60 654.70,317.00" stroke="#000" stroke-width="1" fill="none"  shape-rendering="crispEdges"/>
<polyline points="537.40,311.40 537.40,384.00 642.10,384.00 642.10,317.00" stroke="#000" stroke-width="1" fill="none"  shape-rendering="crispEdges"/>
<line x1="550.40" y1="311.40" x2="550.40" y2="435.00" stroke="#000" stroke-width="1"  shape-rendering="crispEdges"/>
<line x1="562.40" y1="311.40" x2="562.40" y2="373.20" stroke="#000" stroke-width="1"  shape-rendering="crispEdges"/>
<circle cx="549.90" cy="435.00" r="1.4" fill="#fff" stroke="#000" stroke-width="0.8"/>
<circle cx="562.40" cy="373.20" r="1.4" fill="#fff" stroke="#000" stroke-width="0.8"/>
<text transform="translate(547.40,433.00) rotate(-90)" font-size="4.5" fill="#222" text-anchor="start" font-weight="normal" >-X23</text>
<text transform="translate(559.40,371.00) rotate(-90)" font-size="4.5" fill="#222" text-anchor="start" font-weight="normal" >-X23</text>
<line x1="548.00" y1="354.80" x2="548.80" y2="355.20" stroke="#333" stroke-width="0.5" />
<line x1="548.60" y1="355.20" x2="552.30" y2="352.60" stroke="#000" stroke-width="0.9" />
<text transform="translate(548.50,354.60) rotate(-90)" font-size="3.3" fill="#6a6a6a" text-anchor="start" font-weight="normal" >5</text>
<text transform="translate(548.50,349.52) rotate(-90)" font-size="3.3" fill="#6a6a6a" text-anchor="start" font-weight="normal" >a5</text>
<line x1="560.00" y1="354.80" x2="560.80" y2="355.20" stroke="#333" stroke-width="0.5" />
<line x1="560.60" y1="355.20" x2="564.30" y2="352.60" stroke="#000" stroke-width="0.9" />
<text transform="translate(560.50,354.60) rotate(-90)" font-size="3.3" fill="#6a6a6a" text-anchor="start" font-weight="normal" >4</text>
<text transform="translate(560.50,349.52) rotate(-90)" font-size="3.3" fill="#6a6a6a" text-anchor="start" font-weight="normal" >a2</text>
<line x1="572.90" y1="354.80" x2="573.70" y2="355.20" stroke="#333" stroke-width="0.5" />
<line x1="573.50" y1="355.20" x2="577.20" y2="352.60" stroke="#000" stroke-width="0.9" />
<text transform="translate(573.40,354.60) rotate(-90)" font-size="3.3" fill="#6a6a6a" text-anchor="start" font-weight="normal" >4</text>
<text transform="translate(573.40,349.52) rotate(-90)" font-size="3.3" fill="#6a6a6a" text-anchor="start" font-weight="normal" >a5</text>
<line x1="548.00" y1="419.50" x2="548.80" y2="419.90" stroke="#333" stroke-width="0.5" />
<line x1="548.60" y1="419.90" x2="552.30" y2="417.30" stroke="#000" stroke-width="0.9" />
<text transform="translate(548.50,419.30) rotate(-90)" font-size="3.3" fill="#6a6a6a" text-anchor="start" font-weight="normal" >5</text>
<text transform="translate(548.50,414.22) rotate(-90)" font-size="3.3" fill="#6a6a6a" text-anchor="start" font-weight="normal" >a5</text>
<text transform="translate(514.10,330.00) rotate(-90)" font-size="2.7" fill="#777" text-anchor="start" font-weight="normal" >white</text>
<text transform="translate(527.10,330.00) rotate(-90)" font-size="2.7" fill="#777" text-anchor="start" font-weight="normal" >blue</text>
<text transform="translate(540.00,330.00) rotate(-90)" font-size="2.7" fill="#777" text-anchor="start" font-weight="normal" >yellow</text>
<text transform="translate(553.00,330.00) rotate(-90)" font-size="2.7" fill="#777" text-anchor="start" font-weight="normal" >black</text>
<text transform="translate(565.00,330.00) rotate(-90)" font-size="2.7" fill="#777" text-anchor="start" font-weight="normal" >green</text>
<text transform="translate(577.90,330.00) rotate(-90)" font-size="2.7" fill="#777" text-anchor="start" font-weight="normal" >red</text>
<rect x="495.50" y="272.40" width="96.20" height="39.00" stroke="#000" stroke-width="1" fill="#fff" shape-rendering="crispEdges"/>
<line x1="495.50" y1="304.80" x2="591.70" y2="304.80" stroke="#000" stroke-width="1"  shape-rendering="crispEdges"/>
<rect x="512.10" y="272.40" width="62.80" height="32.40" stroke="none" stroke-width="0" fill="#000" shape-rendering="crispEdges"/>
<line x1="504.20" y1="306.00" x2="504.20" y2="311.40" stroke="#000" stroke-width="1"  shape-rendering="crispEdges"/>
<line x1="517.40" y1="306.00" x2="517.40" y2="311.40" stroke="#000" stroke-width="1"  shape-rendering="crispEdges"/>
<line x1="530.40" y1="306.00" x2="530.40" y2="311.40" stroke="#000" stroke-width="1"  shape-rendering="crispEdges"/>
<line x1="543.60" y1="306.00" x2="543.60" y2="311.40" stroke="#000" stroke-width="1"  shape-rendering="crispEdges"/>
<line x1="556.40" y1="306.00" x2="556.40" y2="311.40" stroke="#000" stroke-width="1"  shape-rendering="crispEdges"/>
<line x1="569.40" y1="306.00" x2="569.40" y2="311.40" stroke="#000" stroke-width="1"  shape-rendering="crispEdges"/>
<line x1="582.60" y1="306.00" x2="582.60" y2="311.40" stroke="#000" stroke-width="1"  shape-rendering="crispEdges"/>
<text transform="translate(494.10,280.60) rotate(-90)" font-size="4.6" fill="#444" text-anchor="start" font-weight="normal" >-U7</text>
<path d="M518,279.8 H565 V299.9 H523 Q518,299.9 518,294.5 Z" fill="#fff"/>
<text x="521.3" y="288.6" font-size="8.6" font-weight="bold" font-style="italic" fill="#000" stroke="#000" stroke-width="0.45" textLength="31.5" lengthAdjust="spacingAndGlyphs">FLEET</text>
<text x="525" y="297.9" font-size="10.4" font-weight="bold" font-style="italic" fill="#000" stroke="#000" stroke-width="0.45" textLength="28" lengthAdjust="spacingAndGlyphs">LINK</text>
<line x1="521.50" y1="284.60" x2="548.00" y2="284.60" stroke="#fff" stroke-width="1"  shape-rendering="crispEdges"/>
<path d="M559,297.8 L553.9,288.3 A5.9,5.9 0 1 1 564.1,288.3 Z" fill="#000" stroke="#fff" stroke-width="0.8"/>
<circle cx="559" cy="285.3" r="3.1" fill="none" stroke="#fff" stroke-width="1.1"/>
<path d="M558.5,275.3 A9,9 0 0 1 568.5,283.5" fill="none" stroke="#fff" stroke-width="0.8" stroke-dasharray="1.2 1.2"/>
<path d="M563,276.8 A6,6 0 0 1 566.5,281" fill="none" stroke="#fff" stroke-width="0.7" stroke-dasharray="1 1"/>
<path d="M635.50,264.60 H739.70 V314.10 L736.50,317.30 H638.70 L635.50,314.10 Z" fill="#fff" stroke="none"/>
<polyline points="635.5,314.30 635.5,264.5 739.5,264.5 739.5,314.30" fill="none" stroke="#000" stroke-width="1" shape-rendering="crispEdges"/>
<line x1="638.70" y1="317.5" x2="736.30" y2="317.5" stroke="#000" stroke-width="1" shape-rendering="crispEdges"/>
<path d="M635.5,314.30 L638.70,317.5 M739.5,314.30 L736.30,317.5" fill="none" stroke="#000" stroke-width="1"/>
<line x1="635.50" y1="296.00" x2="739.70" y2="296.00" stroke="#000" stroke-width="1"  shape-rendering="crispEdges"/>
<line x1="635.50" y1="305.60" x2="739.70" y2="305.60" stroke="#000" stroke-width="1"  shape-rendering="crispEdges"/>
<line x1="635.50" y1="311.40" x2="739.70" y2="311.40" stroke="#000" stroke-width="1"  shape-rendering="crispEdges"/>
<line x1="674.50" y1="264.60" x2="674.50" y2="296.00" stroke="#000" stroke-width="1"  shape-rendering="crispEdges"/>
<line x1="713.50" y1="264.60" x2="713.50" y2="296.00" stroke="#000" stroke-width="1"  shape-rendering="crispEdges"/>
<line x1="642.00" y1="305.60" x2="642.00" y2="317.30" stroke="#000" stroke-width="1"  shape-rendering="crispEdges"/>
<rect x="641.05" y="307.70" width="2.9" height="4.7" fill="#000"/>
<text x="642.00" y="302.75" font-size="5.4" fill="#000" text-anchor="middle" font-weight="normal" stroke="#000" stroke-width="0.15">30</text>
<line x1="654.90" y1="305.60" x2="654.90" y2="317.30" stroke="#000" stroke-width="1"  shape-rendering="crispEdges"/>
<rect x="653.05" y="307.70" width="2.9" height="4.7" fill="#000"/>
<text x="654.90" y="302.75" font-size="5.4" fill="#000" text-anchor="middle" font-weight="normal" stroke="#000" stroke-width="0.15">29</text>
<line x1="667.80" y1="305.60" x2="667.80" y2="317.30" stroke="#000" stroke-width="1"  shape-rendering="crispEdges"/>
<rect x="666.05" y="307.70" width="2.9" height="4.7" fill="#000"/>
<text x="667.80" y="302.75" font-size="5.4" fill="#000" text-anchor="middle" font-weight="normal" stroke="#000" stroke-width="0.15">31</text>
<line x1="680.70" y1="305.60" x2="680.70" y2="317.30" stroke="#000" stroke-width="1"  shape-rendering="crispEdges"/>
<rect x="679.05" y="307.70" width="2.9" height="4.7" fill="#000"/>
<text x="680.70" y="302.75" font-size="5.4" fill="#000" text-anchor="middle" font-weight="normal" stroke="#000" stroke-width="0.15">32</text>
<line x1="693.60" y1="305.60" x2="693.60" y2="317.30" stroke="#000" stroke-width="1"  shape-rendering="crispEdges"/>
<rect x="692.05" y="307.70" width="2.9" height="4.7" fill="#000"/>
<text x="693.60" y="302.75" font-size="5.4" fill="#000" text-anchor="middle" font-weight="normal" stroke="#000" stroke-width="0.15">33</text>
<line x1="706.50" y1="305.60" x2="706.50" y2="317.30" stroke="#000" stroke-width="1"  shape-rendering="crispEdges"/>
<rect x="705.05" y="307.70" width="2.9" height="4.7" fill="#000"/>
<text x="706.50" y="302.75" font-size="5.4" fill="#000" text-anchor="middle" font-weight="normal" stroke="#000" stroke-width="0.15">34</text>
<line x1="719.40" y1="305.60" x2="719.40" y2="317.30" stroke="#000" stroke-width="1"  shape-rendering="crispEdges"/>
<rect x="718.05" y="307.70" width="2.9" height="4.7" fill="#000"/>
<text x="719.40" y="302.75" font-size="5.4" fill="#000" text-anchor="middle" font-weight="normal" stroke="#000" stroke-width="0.15">35</text>
<line x1="732.30" y1="305.60" x2="732.30" y2="317.30" stroke="#000" stroke-width="1"  shape-rendering="crispEdges"/>
<rect x="731.05" y="307.70" width="2.9" height="4.7" fill="#000"/>
<text x="732.30" y="302.75" font-size="5.4" fill="#000" text-anchor="middle" font-weight="normal" stroke="#000" stroke-width="0.15">36</text>
<text transform="translate(643.40,293.40) rotate(-90)" font-size="4.0" fill="#444" text-anchor="start" font-weight="normal" letter-spacing="0.3">GND</text>
<text transform="translate(656.30,293.40) rotate(-90)" font-size="4.0" fill="#444" text-anchor="start" font-weight="normal" letter-spacing="0.3">A (Data+)</text>
<text transform="translate(669.20,293.40) rotate(-90)" font-size="4.0" fill="#444" text-anchor="start" font-weight="normal" letter-spacing="0.3">B (Data-)</text>
<text transform="translate(682.10,293.40) rotate(-90)" font-size="4.0" fill="#444" text-anchor="start" font-weight="normal" letter-spacing="0.3">A (Data+)</text>
<text transform="translate(695.00,293.40) rotate(-90)" font-size="4.0" fill="#444" text-anchor="start" font-weight="normal" letter-spacing="0.3">GND</text>
<text transform="translate(707.90,293.40) rotate(-90)" font-size="4.0" fill="#444" text-anchor="start" font-weight="normal" letter-spacing="0.3">B (Data-)</text>
<text transform="translate(720.80,293.40) rotate(-90)" font-size="4.0" fill="#444" text-anchor="start" font-weight="normal" letter-spacing="0.3">ML</text>
<text transform="translate(733.70,293.40) rotate(-90)" font-size="4.0" fill="#444" text-anchor="start" font-weight="normal" letter-spacing="0.3">ML</text>
<text transform="translate(633.60,274.10) rotate(-90)" font-size="4.7" fill="#111" text-anchor="start" font-weight="normal" >-A1</text>
<text transform="translate(634.30,317.10) rotate(-90)" font-size="5.1" fill="#111" text-anchor="start" font-weight="normal" >-X41.3</text>
<rect x="762.60" y="373.20" width="123.00" height="62.00" stroke="#888" stroke-width="1" fill="#fff" shape-rendering="crispEdges"/>
<rect x="773.30" y="384.30" width="102.30" height="41.10" stroke="#000" stroke-width="1" fill="#fff" shape-rendering="crispEdges"/>
<rect x="763.00" y="327.10" width="122.50" height="46.10" stroke="#000" stroke-width="1" fill="#fff" shape-rendering="crispEdges"/>
<line x1="763.00" y1="333.30" x2="885.50" y2="333.30" stroke="#000" stroke-width="1"  shape-rendering="crispEdges"/>
<line x1="788.50" y1="327.10" x2="788.50" y2="373.20" stroke="#000" stroke-width="1"  shape-rendering="crispEdges"/>
<line x1="814.40" y1="327.10" x2="814.40" y2="373.20" stroke="#000" stroke-width="1"  shape-rendering="crispEdges"/>
<line x1="860.40" y1="327.10" x2="860.40" y2="373.20" stroke="#000" stroke-width="1"  shape-rendering="crispEdges"/>
<path d="M763.5,327.5 V323.5 Q763.5,321.5 765.5,321.5 H786.5 Q788.5,321.5 788.5,323.5 V327.5" fill="#fff" stroke="none"/>
<line x1="763.5" y1="327.5" x2="763.5" y2="323.8" stroke="#000" stroke-width="1" shape-rendering="crispEdges"/>
<line x1="788.5" y1="327.5" x2="788.5" y2="323.8" stroke="#000" stroke-width="1" shape-rendering="crispEdges"/>
<line x1="765.9" y1="321.5" x2="786.1" y2="321.5" stroke="#000" stroke-width="1" shape-rendering="crispEdges"/>
<path d="M763.5,323.8 Q763.5,321.5 765.9,321.5 M788.5,323.8 Q788.5,321.5 786.1,321.5" fill="none" stroke="#777" stroke-width="0.8"/>
<path d="M814.5,327.5 V323.5 Q814.5,321.5 816.5,321.5 H858.5 Q860.5,321.5 860.5,323.5 V327.5" fill="#fff" stroke="none"/>
<line x1="814.5" y1="327.5" x2="814.5" y2="323.8" stroke="#000" stroke-width="1" shape-rendering="crispEdges"/>
<line x1="860.5" y1="327.5" x2="860.5" y2="323.8" stroke="#000" stroke-width="1" shape-rendering="crispEdges"/>
<line x1="816.9" y1="321.5" x2="858.1" y2="321.5" stroke="#000" stroke-width="1" shape-rendering="crispEdges"/>
<path d="M814.5,323.8 Q814.5,321.5 816.9,321.5 M860.5,323.8 Q860.5,321.5 858.1,321.5" fill="none" stroke="#777" stroke-width="0.8"/>
<line x1="763.00" y1="327.10" x2="885.50" y2="327.10" stroke="#000" stroke-width="1"  shape-rendering="crispEdges"/>
<line x1="776.30" y1="300.00" x2="776.30" y2="333.30" stroke="#000" stroke-width="1"  shape-rendering="crispEdges"/>
<rect x="775.25" y="326.00" width="2.5" height="4.6" fill="#000"/>
<line x1="821.00" y1="321.50" x2="821.00" y2="333.30" stroke="#000" stroke-width="1"  shape-rendering="crispEdges"/>
<rect x="820.20" y="324.00" width="2.6" height="3.8" fill="#000"/>
<line x1="827.20" y1="321.50" x2="827.20" y2="333.30" stroke="#000" stroke-width="1"  shape-rendering="crispEdges"/>
<rect x="826.20" y="324.00" width="2.6" height="3.8" fill="#000"/>
<line x1="834.10" y1="321.50" x2="834.10" y2="333.30" stroke="#000" stroke-width="1"  shape-rendering="crispEdges"/>
<rect x="833.20" y="324.00" width="2.6" height="3.8" fill="#000"/>
<line x1="840.30" y1="321.50" x2="840.30" y2="333.30" stroke="#000" stroke-width="1"  shape-rendering="crispEdges"/>
<rect x="839.20" y="324.00" width="2.6" height="3.8" fill="#000"/>
<line x1="847.30" y1="321.50" x2="847.30" y2="333.30" stroke="#000" stroke-width="1"  shape-rendering="crispEdges"/>
<rect x="846.20" y="324.00" width="2.6" height="3.8" fill="#000"/>
<line x1="853.40" y1="321.50" x2="853.40" y2="333.30" stroke="#000" stroke-width="1"  shape-rendering="crispEdges"/>
<rect x="852.20" y="324.00" width="2.6" height="3.8" fill="#000"/>
<line x1="801.50" y1="328.00" x2="801.50" y2="333.00" stroke="#000" stroke-width="1"  shape-rendering="crispEdges"/>
<path d="M801.5,329.6 l1.8,0.5 M801.5,331.2 l2,0.4" stroke="#000" stroke-width="0.8" fill="none"/>
<line x1="872.80" y1="328.00" x2="872.80" y2="333.00" stroke="#000" stroke-width="1"  shape-rendering="crispEdges"/>
<path d="M872.8,329.6 l1.8,0.5 M872.8,331.2 l2,0.4" stroke="#000" stroke-width="0.8" fill="none"/>
<text transform="translate(761.60,332.40) rotate(-90)" font-size="4.7" fill="#222" text-anchor="start" font-weight="normal" >-A2</text>
<line x1="840.30" y1="323.00" x2="840.30" y2="241.30" stroke="#000" stroke-width="1"  shape-rendering="crispEdges"/>
<polygon points="837.80,242.80 843.20,242.80 840.50,236.30" fill="#000"/>
<line x1="853.40" y1="323.00" x2="853.40" y2="241.30" stroke="#000" stroke-width="1"  shape-rendering="crispEdges"/>
<polygon points="850.80,242.80 856.20,242.80 853.50,236.30" fill="#000"/>
<line x1="837.90" y1="269.80" x2="838.70" y2="270.20" stroke="#333" stroke-width="0.5" />
<line x1="838.50" y1="270.20" x2="842.20" y2="267.60" stroke="#000" stroke-width="0.9" />
<text transform="translate(838.40,269.60) rotate(-90)" font-size="3.3" fill="#6a6a6a" text-anchor="start" font-weight="normal" >1,95</text>
<text transform="translate(838.40,259.18) rotate(-90)" font-size="3.3" fill="#6a6a6a" text-anchor="start" font-weight="normal" >swit</text>
<line x1="851.00" y1="269.80" x2="851.80" y2="270.20" stroke="#333" stroke-width="0.5" />
<line x1="851.60" y1="270.20" x2="855.30" y2="267.60" stroke="#000" stroke-width="0.9" />
<text transform="translate(851.50,269.60) rotate(-90)" font-size="3.3" fill="#6a6a6a" text-anchor="start" font-weight="normal" >1,95</text>
<text transform="translate(851.50,259.18) rotate(-90)" font-size="3.3" fill="#6a6a6a" text-anchor="start" font-weight="normal" >swit</text>
<text transform="translate(842.20,219.80) rotate(-90)" font-size="5.2" fill="#222" text-anchor="end" font-weight="normal" >04.D8</text>
<text transform="translate(846.70,219.80) rotate(-90)" font-size="3.7" fill="#333" text-anchor="end" font-weight="normal" >To X41.10</text>
<text transform="translate(855.30,219.80) rotate(-90)" font-size="5.2" fill="#222" text-anchor="end" font-weight="normal" >04.D8</text>
<text transform="translate(859.80,219.80) rotate(-90)" font-size="3.7" fill="#333" text-anchor="end" font-weight="normal" >To X41.9</text>
<line x1="108.10" y1="511.40" x2="227.30" y2="511.40" stroke="#000" stroke-width="1"  shape-rendering="crispEdges"/>
<line x1="90.60" y1="533.30" x2="122.00" y2="533.30" stroke="#000" stroke-width="1"  shape-rendering="crispEdges"/>
<line x1="106.40" y1="518.80" x2="106.40" y2="554.20" stroke="#000" stroke-width="1"  shape-rendering="crispEdges"/>
<line x1="101.30" y1="528.60" x2="101.30" y2="533.30" stroke="#000" stroke-width="1"  shape-rendering="crispEdges"/>
<line x1="101.30" y1="528.60" x2="98.50" y2="524.20" stroke="#000" stroke-width="0.7" />
<line x1="101.30" y1="521.40" x2="101.30" y2="523.60" stroke="#000" stroke-width="1"  shape-rendering="crispEdges"/>
<line x1="111.40" y1="521.00" x2="111.40" y2="533.30" stroke="#000" stroke-width="1"  shape-rendering="crispEdges"/>
<line x1="111.40" y1="526.80" x2="113.70" y2="525.20" stroke="#000" stroke-width="0.7" />
<line x1="113.70" y1="525.40" x2="113.70" y2="523.40" stroke="#000" stroke-width="1"  shape-rendering="crispEdges"/>
<line x1="128.50" y1="533.30" x2="159.90" y2="533.30" stroke="#000" stroke-width="1"  shape-rendering="crispEdges"/>
<line x1="144.30" y1="518.80" x2="144.30" y2="554.20" stroke="#000" stroke-width="1"  shape-rendering="crispEdges"/>
<line x1="139.20" y1="528.60" x2="139.20" y2="533.30" stroke="#000" stroke-width="1"  shape-rendering="crispEdges"/>
<line x1="139.20" y1="528.60" x2="136.40" y2="524.20" stroke="#000" stroke-width="0.7" />
<line x1="139.20" y1="521.40" x2="139.20" y2="523.60" stroke="#000" stroke-width="1"  shape-rendering="crispEdges"/>
<line x1="149.30" y1="521.00" x2="149.30" y2="533.30" stroke="#000" stroke-width="1"  shape-rendering="crispEdges"/>
<line x1="149.30" y1="526.80" x2="151.60" y2="525.20" stroke="#000" stroke-width="0.7" />
<line x1="151.60" y1="525.40" x2="151.60" y2="523.40" stroke="#000" stroke-width="1"  shape-rendering="crispEdges"/>
<line x1="165.50" y1="533.30" x2="196.90" y2="533.30" stroke="#000" stroke-width="1"  shape-rendering="crispEdges"/>
<line x1="181.30" y1="518.80" x2="181.30" y2="554.20" stroke="#000" stroke-width="1"  shape-rendering="crispEdges"/>
<line x1="176.20" y1="528.60" x2="176.20" y2="533.30" stroke="#000" stroke-width="1"  shape-rendering="crispEdges"/>
<line x1="176.20" y1="528.60" x2="173.40" y2="524.20" stroke="#000" stroke-width="0.7" />
<line x1="176.20" y1="521.40" x2="176.20" y2="523.60" stroke="#000" stroke-width="1"  shape-rendering="crispEdges"/>
<line x1="186.30" y1="521.00" x2="186.30" y2="533.30" stroke="#000" stroke-width="1"  shape-rendering="crispEdges"/>
<line x1="186.30" y1="526.80" x2="188.60" y2="525.20" stroke="#000" stroke-width="0.7" />
<line x1="188.60" y1="525.40" x2="188.60" y2="523.40" stroke="#000" stroke-width="1"  shape-rendering="crispEdges"/>
<line x1="203.40" y1="533.30" x2="234.80" y2="533.30" stroke="#000" stroke-width="1"  shape-rendering="crispEdges"/>
<line x1="219.20" y1="518.80" x2="219.20" y2="554.20" stroke="#000" stroke-width="1"  shape-rendering="crispEdges"/>
<line x1="214.10" y1="528.60" x2="214.10" y2="533.30" stroke="#000" stroke-width="1"  shape-rendering="crispEdges"/>
<line x1="214.10" y1="528.60" x2="211.30" y2="524.20" stroke="#000" stroke-width="0.7" />
<line x1="214.10" y1="521.40" x2="214.10" y2="523.60" stroke="#000" stroke-width="1"  shape-rendering="crispEdges"/>
<line x1="224.20" y1="521.00" x2="224.20" y2="533.30" stroke="#000" stroke-width="1"  shape-rendering="crispEdges"/>
<line x1="224.20" y1="526.80" x2="226.50" y2="525.20" stroke="#000" stroke-width="0.7" />
<line x1="226.50" y1="525.40" x2="226.50" y2="523.40" stroke="#000" stroke-width="1"  shape-rendering="crispEdges"/>
<rect x="27.20" y="613.90" width="75.80" height="8.10" stroke="none" stroke-width="0" fill="#000" shape-rendering="crispEdges"/>
<rect x="27.20" y="642.70" width="75.80" height="8.10" stroke="none" stroke-width="0" fill="#000" shape-rendering="crispEdges"/>
<g font-family="Liberation Serif, serif" font-size="15.2" font-weight="bold" font-style="italic" fill="#000" stroke="#000" stroke-width="0.5"><text x="26.3" y="636.9" textLength="38.8" lengthAdjust="spacingAndGlyphs">Atlas</text><text x="66.6" y="636.9" textLength="36.8" lengthAdjust="spacingAndGlyphs">Copco</text></g>
</svg></body></html>
